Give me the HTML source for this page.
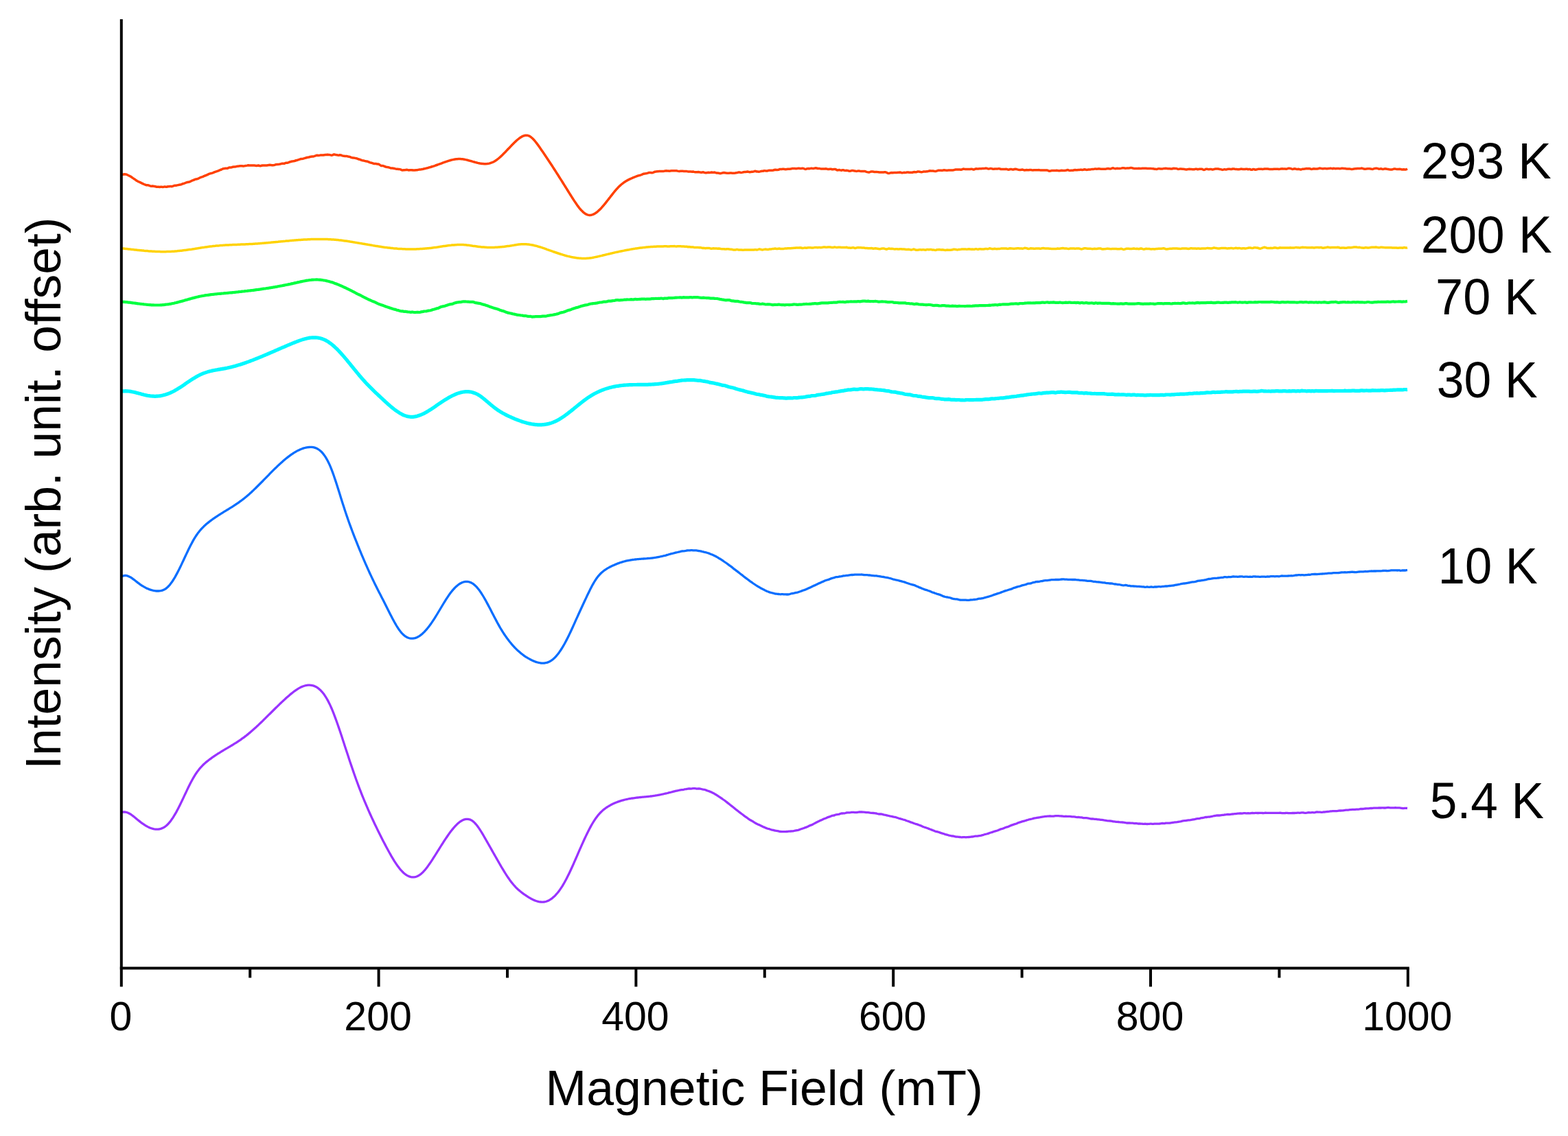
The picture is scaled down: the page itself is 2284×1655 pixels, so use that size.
<!DOCTYPE html>
<html><head><meta charset="utf-8"><title>EPR spectra</title><style>html,body{margin:0;padding:0;background:#fff;overflow:hidden;width:2284px;height:1655px;}svg{display:block;}</style></head><body>
<svg width="2284" height="1655" viewBox="0 0 2284 1655">
<rect width="2284" height="1655" fill="#fff"/>
<path d="M177.0 254.5 L178.5 254.3 L180.0 254.0 L181.5 253.8 L183.0 253.9 L184.5 254.3 L186.0 255.0 L187.5 255.8 L189.0 256.4 L190.5 257.3 L192.0 258.3 L193.5 259.4 L195.0 260.4 L196.5 261.3 L198.0 262.5 L199.5 263.5 L201.0 264.3 L202.5 265.0 L204.0 265.7 L205.5 266.4 L207.0 267.1 L208.5 267.8 L210.0 268.5 L211.5 269.1 L213.0 269.7 L214.5 269.8 L216.0 269.8 L217.5 270.3 L219.0 271.0 L220.5 271.2 L222.0 271.1 L223.5 271.3 L225.0 271.5 L226.5 271.8 L228.0 272.2 L229.5 272.2 L231.0 272.3 L232.5 272.5 L234.0 272.3 L235.5 272.3 L237.0 272.4 L238.5 272.2 L240.0 271.9 L241.5 272.2 L243.0 272.2 L244.5 271.8 L246.0 271.8 L247.5 271.6 L249.0 271.5 L250.5 271.7 L252.0 271.2 L253.5 270.5 L255.0 270.3 L256.5 270.2 L258.0 269.9 L259.5 269.6 L261.0 269.3 L262.5 269.1 L264.0 268.7 L265.5 268.0 L267.0 267.5 L268.5 267.1 L270.0 266.5 L271.5 265.9 L273.0 265.5 L274.5 265.2 L276.0 265.0 L277.5 264.4 L279.0 263.4 L280.5 262.9 L282.0 262.4 L283.5 261.6 L285.0 261.1 L286.5 260.9 L288.0 260.5 L289.5 259.8 L291.0 259.0 L292.5 258.3 L294.0 257.9 L295.5 257.4 L297.0 256.7 L298.5 256.0 L300.0 255.5 L301.5 254.8 L303.0 254.1 L304.5 253.4 L306.0 252.9 L307.5 252.5 L309.0 252.1 L310.5 251.6 L312.0 250.9 L313.5 250.3 L315.0 249.8 L316.5 249.3 L318.0 248.8 L319.5 248.1 L321.0 247.5 L322.5 247.0 L324.0 246.2 L325.5 245.7 L327.0 245.5 L328.5 245.3 L330.0 245.3 L331.5 245.2 L333.0 244.4 L334.5 243.9 L336.0 243.9 L337.5 243.7 L339.0 243.3 L340.5 243.1 L342.0 243.1 L343.5 242.8 L345.0 242.3 L346.5 242.2 L348.0 242.1 L349.5 241.8 L351.0 241.8 L352.5 241.8 L354.0 241.9 L355.5 241.9 L357.0 241.6 L358.5 241.4 L360.0 241.1 L361.5 240.7 L363.0 240.9 L364.5 241.0 L366.0 240.9 L367.5 241.0 L369.0 241.0 L370.5 241.1 L372.0 241.2 L373.5 241.4 L375.0 241.2 L376.5 241.0 L378.0 241.5 L379.5 241.7 L381.0 241.3 L382.5 241.0 L384.0 240.9 L385.5 240.9 L387.0 241.1 L388.5 240.9 L390.0 240.7 L391.5 240.5 L393.0 240.3 L394.5 240.4 L396.0 240.7 L397.5 240.7 L399.0 240.5 L400.5 240.2 L402.0 239.7 L403.5 239.5 L405.0 239.4 L406.5 239.3 L408.0 239.0 L409.5 238.6 L411.0 238.2 L412.5 238.2 L414.0 238.3 L415.5 237.7 L417.0 237.2 L418.5 237.2 L420.0 236.9 L421.5 236.2 L423.0 235.7 L424.5 235.3 L426.0 234.9 L427.5 234.8 L429.0 234.5 L430.5 234.0 L432.0 233.5 L433.5 233.2 L435.0 232.7 L436.5 232.2 L438.0 231.6 L439.5 231.4 L441.0 231.3 L442.5 230.9 L444.0 230.4 L445.5 230.0 L447.0 229.5 L448.5 229.2 L450.0 229.0 L451.5 228.5 L453.0 228.2 L454.5 228.0 L456.0 228.0 L457.5 227.6 L459.0 227.1 L460.5 226.5 L462.0 226.2 L463.5 226.5 L465.0 226.4 L466.5 226.1 L468.0 226.0 L469.5 226.0 L471.0 225.9 L472.5 225.7 L474.0 225.5 L475.5 225.5 L477.0 225.2 L478.5 225.4 L480.0 225.6 L481.5 225.9 L483.0 226.2 L484.5 225.9 L486.0 225.1 L487.5 225.1 L489.0 225.6 L490.5 225.7 L492.0 226.0 L493.5 226.2 L495.0 225.8 L496.5 225.9 L498.0 226.6 L499.5 227.0 L501.0 227.2 L502.5 227.4 L504.0 227.4 L505.5 227.6 L507.0 228.0 L508.5 228.2 L510.0 228.6 L511.5 229.3 L513.0 229.8 L514.5 230.0 L516.0 230.1 L517.5 230.4 L519.0 230.7 L520.5 231.2 L522.0 231.8 L523.5 232.2 L525.0 232.7 L526.5 233.4 L528.0 233.8 L529.5 233.9 L531.0 234.4 L532.5 234.8 L534.0 235.0 L535.5 235.3 L537.0 235.9 L538.5 236.6 L540.0 237.0 L541.5 237.3 L543.0 237.8 L544.5 238.4 L546.0 238.5 L547.5 238.5 L549.0 238.9 L550.5 239.0 L552.0 239.3 L553.5 240.4 L555.0 241.4 L556.5 241.5 L558.0 241.5 L559.5 242.1 L561.0 242.8 L562.5 243.2 L564.0 243.4 L565.5 243.7 L567.0 244.2 L568.5 244.7 L570.0 245.0 L571.5 245.0 L573.0 245.2 L574.5 245.5 L576.0 245.9 L577.5 246.2 L579.0 246.2 L580.5 246.4 L582.0 246.6 L583.5 246.9 L585.0 247.7 L586.5 247.9 L588.0 247.7 L589.5 247.8 L591.0 247.6 L592.5 247.2 L594.0 247.6 L595.5 248.0 L597.0 247.8 L598.5 247.7 L600.0 247.7 L601.5 248.0 L603.0 248.1 L604.5 248.0 L606.0 247.8 L607.5 247.7 L609.0 247.4 L610.5 247.1 L612.0 246.9 L613.5 246.8 L615.0 246.5 L616.5 246.2 L618.0 245.8 L619.5 245.5 L621.0 245.1 L622.5 244.8 L624.0 244.3 L625.5 243.9 L627.0 243.5 L628.5 243.0 L630.0 242.5 L631.5 242.1 L633.0 241.6 L634.5 241.0 L636.0 240.5 L637.5 240.0 L639.0 239.4 L640.5 238.9 L642.0 238.3 L643.5 237.8 L645.0 237.2 L646.5 236.7 L648.0 236.1 L649.5 235.6 L651.0 235.1 L652.5 234.6 L654.0 234.1 L655.5 233.7 L657.0 233.3 L658.5 232.9 L660.0 232.6 L661.5 232.3 L663.0 232.0 L664.5 231.8 L666.0 231.7 L667.5 231.6 L669.0 231.6 L670.5 231.6 L672.0 231.7 L673.5 231.8 L675.0 232.0 L676.5 232.3 L678.0 232.6 L679.5 232.9 L681.0 233.3 L682.5 233.7 L684.0 234.1 L685.5 234.5 L687.0 234.9 L688.5 235.4 L690.0 235.8 L691.5 236.2 L693.0 236.6 L694.5 237.0 L696.0 237.4 L697.5 237.7 L699.0 238.0 L700.5 238.2 L702.0 238.5 L703.5 238.6 L705.0 238.7 L706.5 238.7 L708.0 238.7 L709.5 238.6 L711.0 238.4 L712.5 238.1 L714.0 237.7 L715.5 237.2 L717.0 236.7 L718.5 236.0 L720.0 235.2 L721.5 234.3 L723.0 233.3 L724.5 232.2 L726.0 231.0 L727.5 229.7 L729.0 228.4 L730.5 227.0 L732.0 225.6 L733.5 224.1 L735.0 222.6 L736.5 221.0 L738.0 219.4 L739.5 217.8 L741.0 216.2 L742.5 214.7 L744.0 213.1 L745.5 211.5 L747.0 210.0 L748.5 208.5 L750.0 207.0 L751.5 205.6 L753.0 204.3 L754.5 203.0 L756.0 201.8 L757.5 200.7 L759.0 199.7 L760.5 198.9 L762.0 198.2 L763.5 197.7 L765.0 197.3 L766.5 197.2 L768.0 197.3 L769.5 197.6 L771.0 198.2 L772.5 199.1 L774.0 200.2 L775.5 201.5 L777.0 203.0 L778.5 204.6 L780.0 206.5 L781.5 208.4 L783.0 210.4 L784.5 212.4 L786.0 214.6 L787.5 216.7 L789.0 218.9 L790.5 221.0 L792.0 223.2 L793.5 225.5 L795.0 227.7 L796.5 229.9 L798.0 232.2 L799.5 234.4 L801.0 236.7 L802.5 239.0 L804.0 241.3 L805.5 243.6 L807.0 246.0 L808.5 248.3 L810.0 250.6 L811.5 253.0 L813.0 255.3 L814.5 257.7 L816.0 260.1 L817.5 262.4 L819.0 264.8 L820.5 267.2 L822.0 269.6 L823.5 272.0 L825.0 274.4 L826.5 276.8 L828.0 279.2 L829.5 281.6 L831.0 284.0 L832.5 286.4 L834.0 288.7 L835.5 291.1 L837.0 293.4 L838.5 295.6 L840.0 297.8 L841.5 299.9 L843.0 301.9 L844.5 303.8 L846.0 305.5 L847.5 307.1 L849.0 308.6 L850.5 309.9 L852.0 311.0 L853.5 311.9 L855.0 312.6 L856.5 313.1 L858.0 313.4 L859.5 313.4 L861.0 313.3 L862.5 312.9 L864.0 312.4 L865.5 311.7 L867.0 310.8 L868.5 309.8 L870.0 308.6 L871.5 307.3 L873.0 305.9 L874.5 304.4 L876.0 302.9 L877.5 301.2 L879.0 299.5 L880.5 297.7 L882.0 295.8 L883.5 293.9 L885.0 292.0 L886.5 290.1 L888.0 288.2 L889.5 286.2 L891.0 284.3 L892.5 282.4 L894.0 280.5 L895.5 278.7 L897.0 276.9 L898.5 275.2 L900.0 273.6 L901.5 272.1 L903.0 270.6 L904.5 269.3 L906.0 268.0 L907.5 266.8 L909.0 265.7 L910.5 264.7 L912.0 263.8 L913.5 262.9 L915.0 262.1 L916.5 261.4 L918.0 260.7 L919.5 260.0 L921.0 259.3 L922.5 258.7 L924.0 258.1 L925.5 257.5 L927.0 256.9 L928.5 256.3 L930.0 255.9 L931.5 255.5 L933.0 255.1 L934.5 254.5 L936.0 253.8 L937.5 253.2 L939.0 253.0 L940.5 252.8 L942.0 252.5 L943.5 252.1 L945.0 251.6 L946.5 251.5 L948.0 251.5 L949.5 251.7 L951.0 251.5 L952.5 250.8 L954.0 250.2 L955.5 250.1 L957.0 249.8 L958.5 249.7 L960.0 249.6 L961.5 249.5 L963.0 249.6 L964.5 249.6 L966.0 249.4 L967.5 249.2 L969.0 248.9 L970.5 248.8 L972.0 248.9 L973.5 249.0 L975.0 249.2 L976.5 249.0 L978.0 248.8 L979.5 248.8 L981.0 248.7 L982.5 248.8 L984.0 248.8 L985.5 248.7 L987.0 249.1 L988.5 249.4 L990.0 249.4 L991.5 249.3 L993.0 249.3 L994.5 249.3 L996.0 249.4 L997.5 249.6 L999.0 249.6 L1000.5 249.6 L1002.0 249.9 L1003.5 250.1 L1005.0 250.1 L1006.5 250.1 L1008.0 250.2 L1009.5 250.0 L1011.0 250.4 L1012.5 250.7 L1014.0 250.8 L1015.5 250.7 L1017.0 250.6 L1018.5 250.8 L1020.0 251.1 L1021.5 251.2 L1023.0 251.0 L1024.5 250.8 L1026.0 251.3 L1027.5 251.8 L1029.0 251.8 L1030.5 251.4 L1032.0 251.2 L1033.5 251.5 L1035.0 251.3 L1036.5 251.0 L1038.0 251.2 L1039.5 251.2 L1041.0 251.1 L1042.5 251.6 L1044.0 252.1 L1045.5 252.0 L1047.0 252.2 L1048.5 252.7 L1050.0 252.6 L1051.5 252.1 L1053.0 251.7 L1054.5 251.5 L1056.0 251.7 L1057.5 252.1 L1059.0 252.2 L1060.5 252.2 L1062.0 252.2 L1063.5 251.9 L1065.0 251.9 L1066.5 252.2 L1068.0 252.2 L1069.5 252.2 L1071.0 252.0 L1072.5 251.7 L1074.0 251.5 L1075.5 251.1 L1077.0 251.0 L1078.5 251.3 L1080.0 251.4 L1081.5 251.1 L1083.0 250.7 L1084.5 250.6 L1086.0 250.6 L1087.5 250.2 L1089.0 250.0 L1090.5 250.4 L1092.0 250.8 L1093.5 250.6 L1095.0 250.2 L1096.5 250.2 L1098.0 249.9 L1099.5 249.3 L1101.0 249.5 L1102.5 250.0 L1104.0 250.1 L1105.5 250.2 L1107.0 249.9 L1108.5 249.5 L1110.0 249.3 L1111.5 249.2 L1113.0 248.8 L1114.5 248.8 L1116.0 249.1 L1117.5 249.1 L1119.0 248.5 L1120.5 248.2 L1122.0 248.3 L1123.5 248.3 L1125.0 248.2 L1126.5 248.0 L1128.0 247.5 L1129.5 247.2 L1131.0 247.4 L1132.5 247.5 L1134.0 247.3 L1135.5 246.6 L1137.0 246.5 L1138.5 246.6 L1140.0 246.3 L1141.5 246.2 L1143.0 246.6 L1144.5 246.7 L1146.0 246.4 L1147.5 246.2 L1149.0 246.3 L1150.5 246.2 L1152.0 246.1 L1153.5 245.6 L1155.0 245.4 L1156.5 245.5 L1158.0 245.6 L1159.5 245.7 L1161.0 245.6 L1162.5 245.3 L1164.0 245.3 L1165.5 245.5 L1167.0 245.5 L1168.5 245.3 L1170.0 245.3 L1171.5 245.9 L1173.0 246.4 L1174.5 246.2 L1176.0 245.7 L1177.5 245.6 L1179.0 245.8 L1180.5 245.4 L1182.0 245.1 L1183.5 245.4 L1185.0 245.5 L1186.5 245.1 L1188.0 244.8 L1189.5 245.0 L1191.0 245.5 L1192.5 245.5 L1194.0 245.6 L1195.5 245.9 L1197.0 246.0 L1198.5 246.0 L1200.0 246.0 L1201.5 245.9 L1203.0 245.8 L1204.5 246.1 L1206.0 246.5 L1207.5 246.4 L1209.0 246.2 L1210.5 246.3 L1212.0 246.7 L1213.5 246.7 L1215.0 246.4 L1216.5 246.4 L1218.0 247.1 L1219.5 247.9 L1221.0 247.8 L1222.5 247.5 L1224.0 247.9 L1225.5 248.2 L1227.0 247.8 L1228.5 247.8 L1230.0 248.2 L1231.5 248.4 L1233.0 248.3 L1234.5 248.4 L1236.0 249.0 L1237.5 249.2 L1239.0 249.0 L1240.5 248.6 L1242.0 248.4 L1243.5 248.7 L1245.0 249.1 L1246.5 249.3 L1248.0 249.4 L1249.5 249.1 L1251.0 248.9 L1252.5 249.3 L1254.0 249.4 L1255.5 249.4 L1257.0 249.5 L1258.5 249.4 L1260.0 249.5 L1261.5 250.1 L1263.0 250.6 L1264.5 250.9 L1266.0 251.1 L1267.5 250.5 L1269.0 249.9 L1270.5 249.9 L1272.0 250.1 L1273.5 250.5 L1275.0 250.5 L1276.5 250.4 L1278.0 250.6 L1279.5 250.7 L1281.0 250.9 L1282.5 251.1 L1284.0 251.1 L1285.5 251.1 L1287.0 251.0 L1288.5 250.8 L1290.0 250.8 L1291.5 251.4 L1293.0 252.2 L1294.5 252.4 L1296.0 252.2 L1297.5 251.7 L1299.0 251.6 L1300.5 251.8 L1302.0 251.6 L1303.5 251.4 L1305.0 251.4 L1306.5 251.4 L1308.0 251.3 L1309.5 251.2 L1311.0 251.0 L1312.5 251.4 L1314.0 251.9 L1315.5 251.6 L1317.0 251.3 L1318.5 251.4 L1320.0 251.3 L1321.5 250.9 L1323.0 251.0 L1324.5 251.3 L1326.0 251.2 L1327.5 251.2 L1329.0 251.2 L1330.5 250.8 L1332.0 250.6 L1333.5 250.7 L1335.0 250.7 L1336.5 250.1 L1338.0 249.9 L1339.5 250.2 L1341.0 250.5 L1342.5 250.7 L1344.0 250.4 L1345.5 249.9 L1347.0 250.0 L1348.5 249.9 L1350.0 249.7 L1351.5 249.7 L1353.0 249.2 L1354.5 248.8 L1356.0 248.9 L1357.5 248.9 L1359.0 249.0 L1360.5 249.3 L1362.0 249.5 L1363.5 249.5 L1365.0 248.9 L1366.5 248.3 L1368.0 248.2 L1369.5 248.2 L1371.0 248.2 L1372.5 248.4 L1374.0 248.0 L1375.5 247.8 L1377.0 248.1 L1378.5 248.3 L1380.0 248.2 L1381.5 248.1 L1383.0 248.1 L1384.5 248.1 L1386.0 248.1 L1387.5 248.0 L1389.0 247.8 L1390.5 247.4 L1392.0 247.0 L1393.5 247.0 L1395.0 247.1 L1396.5 247.0 L1398.0 246.9 L1399.5 247.3 L1401.0 247.0 L1402.5 246.3 L1404.0 246.1 L1405.5 246.4 L1407.0 246.5 L1408.5 246.4 L1410.0 246.4 L1411.5 246.4 L1413.0 246.4 L1414.5 246.2 L1416.0 246.3 L1417.5 246.9 L1419.0 246.9 L1420.5 246.2 L1422.0 245.8 L1423.5 245.9 L1425.0 246.0 L1426.5 245.8 L1428.0 245.7 L1429.5 245.8 L1431.0 245.6 L1432.5 245.5 L1434.0 245.4 L1435.5 245.1 L1437.0 245.2 L1438.5 245.7 L1440.0 245.9 L1441.5 245.7 L1443.0 245.4 L1444.5 245.7 L1446.0 246.2 L1447.5 246.3 L1449.0 246.0 L1450.5 245.9 L1452.0 246.0 L1453.5 245.9 L1455.0 245.6 L1456.5 246.0 L1458.0 246.5 L1459.5 246.6 L1461.0 246.5 L1462.5 246.4 L1464.0 246.4 L1465.5 246.3 L1467.0 246.6 L1468.5 247.2 L1470.0 247.0 L1471.5 246.5 L1473.0 246.5 L1474.5 246.9 L1476.0 247.0 L1477.5 246.5 L1479.0 246.2 L1480.5 246.5 L1482.0 246.9 L1483.5 247.2 L1485.0 247.4 L1486.5 247.4 L1488.0 247.2 L1489.5 247.1 L1491.0 247.6 L1492.5 248.1 L1494.0 247.8 L1495.5 247.6 L1497.0 247.7 L1498.5 247.8 L1500.0 247.5 L1501.5 247.5 L1503.0 247.8 L1504.5 247.9 L1506.0 247.7 L1507.5 247.7 L1509.0 247.8 L1510.5 247.8 L1512.0 247.7 L1513.5 247.6 L1515.0 247.9 L1516.5 248.1 L1518.0 247.9 L1519.5 248.0 L1521.0 248.1 L1522.5 248.0 L1524.0 247.9 L1525.5 248.1 L1527.0 248.7 L1528.5 249.3 L1530.0 249.1 L1531.5 248.6 L1533.0 248.5 L1534.5 248.5 L1536.0 248.6 L1537.5 248.6 L1539.0 248.3 L1540.5 248.4 L1542.0 248.7 L1543.5 248.8 L1545.0 248.5 L1546.5 248.2 L1548.0 248.4 L1549.5 248.5 L1551.0 248.4 L1552.5 248.3 L1554.0 247.8 L1555.5 247.6 L1557.0 248.2 L1558.5 248.4 L1560.0 248.2 L1561.5 248.2 L1563.0 248.2 L1564.5 247.8 L1566.0 247.6 L1567.5 247.8 L1569.0 247.8 L1570.5 247.6 L1572.0 247.6 L1573.5 247.3 L1575.0 247.2 L1576.5 247.5 L1578.0 247.2 L1579.5 246.8 L1581.0 247.0 L1582.5 247.4 L1584.0 247.3 L1585.5 247.0 L1587.0 246.9 L1588.5 246.9 L1590.0 246.6 L1591.5 246.5 L1593.0 246.4 L1594.5 246.1 L1596.0 246.1 L1597.5 246.2 L1599.0 246.1 L1600.5 245.8 L1602.0 245.9 L1603.5 246.2 L1605.0 246.2 L1606.5 246.2 L1608.0 246.2 L1609.5 246.3 L1611.0 246.2 L1612.5 245.7 L1614.0 245.6 L1615.5 245.7 L1617.0 246.1 L1618.5 245.8 L1620.0 244.9 L1621.5 244.8 L1623.0 245.4 L1624.5 245.7 L1626.0 245.5 L1627.5 245.3 L1629.0 245.4 L1630.5 245.4 L1632.0 245.4 L1633.5 245.1 L1635.0 244.7 L1636.5 244.8 L1638.0 245.0 L1639.5 245.2 L1641.0 245.1 L1642.5 244.9 L1644.0 245.0 L1645.5 244.8 L1647.0 244.5 L1648.5 244.6 L1650.0 245.0 L1651.5 245.4 L1653.0 245.5 L1654.5 245.4 L1656.0 245.5 L1657.5 245.4 L1659.0 245.3 L1660.5 245.6 L1662.0 245.6 L1663.5 245.3 L1665.0 245.2 L1666.5 245.3 L1668.0 245.3 L1669.5 245.3 L1671.0 245.5 L1672.5 245.6 L1674.0 245.5 L1675.5 245.4 L1677.0 245.6 L1678.5 245.7 L1680.0 245.8 L1681.5 246.2 L1683.0 246.3 L1684.5 246.4 L1686.0 246.2 L1687.5 245.7 L1689.0 245.7 L1690.5 245.9 L1692.0 245.9 L1693.5 245.9 L1695.0 245.6 L1696.5 245.4 L1698.0 245.3 L1699.5 245.4 L1701.0 245.7 L1702.5 245.8 L1704.0 245.7 L1705.5 246.0 L1707.0 246.0 L1708.5 245.5 L1710.0 245.3 L1711.5 245.4 L1713.0 245.4 L1714.5 245.9 L1716.0 246.4 L1717.5 246.3 L1719.0 246.1 L1720.5 246.1 L1722.0 246.2 L1723.5 246.3 L1725.0 246.4 L1726.5 246.8 L1728.0 247.0 L1729.5 246.7 L1731.0 246.4 L1732.5 246.3 L1734.0 246.5 L1735.5 246.6 L1737.0 246.7 L1738.5 246.8 L1740.0 246.7 L1741.5 246.2 L1743.0 246.3 L1744.5 246.7 L1746.0 246.5 L1747.5 246.3 L1749.0 246.2 L1750.5 246.2 L1752.0 246.8 L1753.5 247.5 L1755.0 247.1 L1756.5 246.3 L1758.0 246.2 L1759.5 246.5 L1761.0 246.7 L1762.5 246.4 L1764.0 246.4 L1765.5 246.9 L1767.0 246.9 L1768.5 246.5 L1770.0 246.1 L1771.5 245.9 L1773.0 245.9 L1774.5 246.0 L1776.0 246.4 L1777.5 246.6 L1779.0 246.9 L1780.5 247.4 L1782.0 247.1 L1783.5 246.6 L1785.0 246.9 L1786.5 247.0 L1788.0 246.4 L1789.5 246.2 L1791.0 246.2 L1792.5 246.4 L1794.0 246.5 L1795.5 246.0 L1797.0 245.9 L1798.5 246.3 L1800.0 246.5 L1801.5 246.6 L1803.0 246.7 L1804.5 246.7 L1806.0 246.6 L1807.5 246.1 L1809.0 246.2 L1810.5 246.4 L1812.0 246.5 L1813.5 246.5 L1815.0 246.2 L1816.5 246.3 L1818.0 246.7 L1819.5 246.6 L1821.0 246.6 L1822.5 247.3 L1824.0 247.2 L1825.5 246.4 L1827.0 246.7 L1828.5 247.3 L1830.0 247.1 L1831.5 246.6 L1833.0 246.3 L1834.5 246.2 L1836.0 246.2 L1837.5 246.3 L1839.0 246.5 L1840.5 246.3 L1842.0 246.0 L1843.5 246.0 L1845.0 246.0 L1846.5 246.1 L1848.0 246.3 L1849.5 246.6 L1851.0 246.6 L1852.5 246.5 L1854.0 246.5 L1855.5 246.3 L1857.0 246.2 L1858.5 246.3 L1860.0 246.3 L1861.5 246.2 L1863.0 246.4 L1864.5 246.3 L1866.0 245.9 L1867.5 245.8 L1869.0 245.9 L1870.5 246.0 L1872.0 246.1 L1873.5 246.3 L1875.0 245.8 L1876.5 245.3 L1878.0 245.3 L1879.5 245.4 L1881.0 245.9 L1882.5 246.5 L1884.0 246.2 L1885.5 245.7 L1887.0 245.9 L1888.5 246.5 L1890.0 246.4 L1891.5 246.2 L1893.0 246.6 L1894.5 247.0 L1896.0 246.7 L1897.5 246.2 L1899.0 246.2 L1900.5 246.1 L1902.0 245.7 L1903.5 245.6 L1905.0 245.7 L1906.5 245.6 L1908.0 245.8 L1909.5 246.2 L1911.0 246.4 L1912.5 246.0 L1914.0 245.7 L1915.5 245.9 L1917.0 246.1 L1918.5 246.1 L1920.0 245.7 L1921.5 245.3 L1923.0 245.1 L1924.5 245.4 L1926.0 245.8 L1927.5 245.8 L1929.0 245.5 L1930.5 245.6 L1932.0 245.8 L1933.5 245.8 L1935.0 245.6 L1936.5 245.4 L1938.0 245.1 L1939.5 245.4 L1941.0 245.7 L1942.5 245.3 L1944.0 245.4 L1945.5 245.7 L1947.0 245.6 L1948.5 245.5 L1950.0 245.6 L1951.5 245.7 L1953.0 245.5 L1954.5 245.2 L1956.0 245.3 L1957.5 245.4 L1959.0 245.5 L1960.5 245.8 L1962.0 246.1 L1963.5 246.0 L1965.0 245.9 L1966.5 246.1 L1968.0 246.4 L1969.5 246.4 L1971.0 246.3 L1972.5 245.9 L1974.0 245.8 L1975.5 245.8 L1977.0 245.5 L1978.5 245.6 L1980.0 245.6 L1981.5 245.4 L1983.0 245.1 L1984.5 245.3 L1986.0 245.8 L1987.5 246.2 L1989.0 246.2 L1990.5 245.9 L1992.0 245.7 L1993.5 245.7 L1995.0 245.8 L1996.5 246.0 L1998.0 246.3 L1999.5 246.5 L2001.0 245.9 L2002.5 245.4 L2004.0 245.3 L2005.5 245.3 L2007.0 245.6 L2008.5 246.2 L2010.0 246.0 L2011.5 245.7 L2013.0 246.2 L2014.5 246.5 L2016.0 246.1 L2017.5 245.8 L2019.0 246.0 L2020.5 246.3 L2022.0 246.5 L2023.5 246.8 L2025.0 246.9 L2026.5 246.9 L2028.0 246.9 L2029.5 246.4 L2031.0 245.9 L2032.5 246.1 L2034.0 246.4 L2035.5 246.4 L2037.0 246.6 L2038.5 246.3 L2040.0 246.4 L2041.5 246.9 L2043.0 246.9 L2044.5 246.8 L2046.0 247.0 L2047.5 247.1 L2049.0 246.5 L2050.0 246.0" fill="none" stroke="#FF4000" stroke-width="3.5" stroke-linejoin="round" stroke-linecap="butt"/>
<path d="M177.0 361.8 L178.5 361.9 L180.0 362.0 L181.5 362.2 L183.0 362.4 L184.5 362.5 L186.0 362.7 L187.5 362.9 L189.0 363.0 L190.5 363.2 L192.0 363.4 L193.5 363.5 L195.0 363.7 L196.5 363.9 L198.0 364.0 L199.5 364.2 L201.0 364.4 L202.5 364.5 L204.0 364.7 L205.5 364.8 L207.0 365.0 L208.5 365.1 L210.0 365.3 L211.5 365.4 L213.0 365.5 L214.5 365.6 L216.0 365.8 L217.5 365.9 L219.0 366.0 L220.5 366.1 L222.0 366.2 L223.5 366.3 L225.0 366.3 L226.5 366.4 L228.0 366.5 L229.5 366.5 L231.0 366.6 L232.5 366.6 L234.0 366.7 L235.5 366.7 L237.0 366.7 L238.5 366.7 L240.0 366.7 L241.5 366.7 L243.0 366.6 L244.5 366.6 L246.0 366.6 L247.5 366.5 L249.0 366.4 L250.5 366.3 L252.0 366.3 L253.5 366.2 L255.0 366.0 L256.5 365.9 L258.0 365.8 L259.5 365.6 L261.0 365.5 L262.5 365.3 L264.0 365.2 L265.5 365.0 L267.0 364.8 L268.5 364.6 L270.0 364.4 L271.5 364.2 L273.0 364.0 L274.5 363.8 L276.0 363.6 L277.5 363.4 L279.0 363.2 L280.5 362.9 L282.0 362.7 L283.5 362.5 L285.0 362.2 L286.5 362.0 L288.0 361.8 L289.5 361.5 L291.0 361.3 L292.5 361.0 L294.0 360.8 L295.5 360.6 L297.0 360.4 L298.5 360.1 L300.0 359.9 L301.5 359.7 L303.0 359.5 L304.5 359.3 L306.0 359.1 L307.5 358.9 L309.0 358.8 L310.5 358.6 L312.0 358.4 L313.5 358.3 L315.0 358.1 L316.5 358.0 L318.0 357.9 L319.5 357.8 L321.0 357.6 L322.5 357.5 L324.0 357.4 L325.5 357.3 L327.0 357.2 L328.5 357.1 L330.0 357.0 L331.5 357.0 L333.0 356.9 L334.5 356.8 L336.0 356.7 L337.5 356.7 L339.0 356.6 L340.5 356.5 L342.0 356.5 L343.5 356.4 L345.0 356.4 L346.5 356.3 L348.0 356.2 L349.5 356.2 L351.0 356.1 L352.5 356.1 L354.0 356.0 L355.5 355.9 L357.0 355.9 L358.5 355.8 L360.0 355.7 L361.5 355.7 L363.0 355.6 L364.5 355.5 L366.0 355.4 L367.5 355.4 L369.0 355.3 L370.5 355.2 L372.0 355.1 L373.5 355.0 L375.0 354.9 L376.5 354.8 L378.0 354.7 L379.5 354.5 L381.0 354.4 L382.5 354.3 L384.0 354.2 L385.5 354.0 L387.0 353.9 L388.5 353.8 L390.0 353.7 L391.5 353.5 L393.0 353.4 L394.5 353.2 L396.0 353.1 L397.5 353.0 L399.0 352.8 L400.5 352.7 L402.0 352.5 L403.5 352.4 L405.0 352.3 L406.5 352.1 L408.0 352.0 L409.5 351.8 L411.0 351.7 L412.5 351.5 L414.0 351.4 L415.5 351.3 L417.0 351.1 L418.5 351.0 L420.0 350.9 L421.5 350.7 L423.0 350.6 L424.5 350.5 L426.0 350.3 L427.5 350.2 L429.0 350.1 L430.5 350.0 L432.0 349.8 L433.5 349.7 L435.0 349.6 L436.5 349.5 L438.0 349.4 L439.5 349.3 L441.0 349.2 L442.5 349.1 L444.0 349.0 L445.5 349.0 L447.0 348.9 L448.5 348.8 L450.0 348.7 L451.5 348.7 L453.0 348.6 L454.5 348.6 L456.0 348.5 L457.5 348.5 L459.0 348.4 L460.5 348.4 L462.0 348.4 L463.5 348.4 L465.0 348.4 L466.5 348.4 L468.0 348.4 L469.5 348.4 L471.0 348.4 L472.5 348.4 L474.0 348.5 L475.5 348.5 L477.0 348.6 L478.5 348.7 L480.0 348.7 L481.5 348.8 L483.0 348.9 L484.5 349.0 L486.0 349.1 L487.5 349.2 L489.0 349.3 L490.5 349.5 L492.0 349.6 L493.5 349.8 L495.0 349.9 L496.5 350.1 L498.0 350.3 L499.5 350.5 L501.0 350.7 L502.5 350.9 L504.0 351.1 L505.5 351.3 L507.0 351.5 L508.5 351.7 L510.0 352.0 L511.5 352.2 L513.0 352.4 L514.5 352.7 L516.0 352.9 L517.5 353.2 L519.0 353.4 L520.5 353.7 L522.0 353.9 L523.5 354.2 L525.0 354.4 L526.5 354.7 L528.0 355.0 L529.5 355.2 L531.0 355.5 L532.5 355.8 L534.0 356.0 L535.5 356.3 L537.0 356.6 L538.5 356.8 L540.0 357.1 L541.5 357.3 L543.0 357.6 L544.5 357.9 L546.0 358.1 L547.5 358.4 L549.0 358.6 L550.5 358.8 L552.0 359.1 L553.5 359.3 L555.0 359.5 L556.5 359.8 L558.0 360.0 L559.5 360.2 L561.0 360.4 L562.5 360.6 L564.0 360.8 L565.5 361.0 L567.0 361.1 L568.5 361.3 L570.0 361.5 L571.5 361.6 L573.0 361.8 L574.5 361.9 L576.0 362.0 L577.5 362.1 L579.0 362.3 L580.5 362.4 L582.0 362.5 L583.5 362.5 L585.0 362.6 L586.5 362.7 L588.0 362.8 L589.5 362.8 L591.0 362.9 L592.5 362.9 L594.0 362.9 L595.5 362.9 L597.0 363.0 L598.5 363.0 L600.0 363.0 L601.5 362.9 L603.0 362.9 L604.5 362.9 L606.0 362.9 L607.5 362.8 L609.0 362.7 L610.5 362.7 L612.0 362.6 L613.5 362.5 L615.0 362.4 L616.5 362.3 L618.0 362.2 L619.5 362.1 L621.0 362.0 L622.5 361.8 L624.0 361.7 L625.5 361.5 L627.0 361.4 L628.5 361.2 L630.0 361.0 L631.5 360.8 L633.0 360.6 L634.5 360.4 L636.0 360.2 L637.5 360.0 L639.0 359.7 L640.5 359.5 L642.0 359.3 L643.5 359.1 L645.0 358.8 L646.5 358.6 L648.0 358.4 L649.5 358.2 L651.0 358.0 L652.5 357.8 L654.0 357.6 L655.5 357.4 L657.0 357.3 L658.5 357.1 L660.0 357.0 L661.5 356.9 L663.0 356.7 L664.5 356.7 L666.0 356.6 L667.5 356.5 L669.0 356.5 L670.5 356.5 L672.0 356.5 L673.5 356.6 L675.0 356.6 L676.5 356.7 L678.0 356.8 L679.5 357.0 L681.0 357.2 L682.5 357.3 L684.0 357.5 L685.5 357.7 L687.0 357.9 L688.5 358.2 L690.0 358.4 L691.5 358.6 L693.0 358.8 L694.5 359.0 L696.0 359.2 L697.5 359.4 L699.0 359.6 L700.5 359.8 L702.0 359.9 L703.5 360.0 L705.0 360.1 L706.5 360.2 L708.0 360.3 L709.5 360.4 L711.0 360.4 L712.5 360.5 L714.0 360.5 L715.5 360.5 L717.0 360.5 L718.5 360.4 L720.0 360.4 L721.5 360.3 L723.0 360.3 L724.5 360.2 L726.0 360.1 L727.5 360.0 L729.0 359.8 L730.5 359.7 L732.0 359.5 L733.5 359.4 L735.0 359.2 L736.5 359.0 L738.0 358.8 L739.5 358.6 L741.0 358.4 L742.5 358.2 L744.0 357.9 L745.5 357.7 L747.0 357.4 L748.5 357.2 L750.0 356.9 L751.5 356.7 L753.0 356.5 L754.5 356.3 L756.0 356.1 L757.5 355.9 L759.0 355.8 L760.5 355.7 L762.0 355.7 L763.5 355.7 L765.0 355.7 L766.5 355.8 L768.0 355.9 L769.5 356.0 L771.0 356.2 L772.5 356.5 L774.0 356.7 L775.5 357.0 L777.0 357.3 L778.5 357.7 L780.0 358.0 L781.5 358.4 L783.0 358.8 L784.5 359.3 L786.0 359.7 L787.5 360.2 L789.0 360.7 L790.5 361.2 L792.0 361.7 L793.5 362.2 L795.0 362.7 L796.5 363.3 L798.0 363.8 L799.5 364.3 L801.0 364.9 L802.5 365.4 L804.0 365.9 L805.5 366.5 L807.0 367.0 L808.5 367.5 L810.0 368.0 L811.5 368.5 L813.0 369.0 L814.5 369.5 L816.0 370.0 L817.5 370.5 L819.0 370.9 L820.5 371.4 L822.0 371.8 L823.5 372.3 L825.0 372.7 L826.5 373.1 L828.0 373.4 L829.5 373.8 L831.0 374.1 L832.5 374.5 L834.0 374.8 L835.5 375.1 L837.0 375.3 L838.5 375.5 L840.0 375.8 L841.5 375.9 L843.0 376.1 L844.5 376.2 L846.0 376.3 L847.5 376.4 L849.0 376.5 L850.5 376.5 L852.0 376.5 L853.5 376.4 L855.0 376.3 L856.5 376.2 L858.0 376.1 L859.5 375.9 L861.0 375.7 L862.5 375.5 L864.0 375.2 L865.5 374.9 L867.0 374.6 L868.5 374.3 L870.0 374.0 L871.5 373.6 L873.0 373.3 L874.5 372.9 L876.0 372.6 L877.5 372.2 L879.0 371.8 L880.5 371.5 L882.0 371.1 L883.5 370.7 L885.0 370.4 L886.5 370.0 L888.0 369.7 L889.5 369.3 L891.0 369.0 L892.5 368.6 L894.0 368.3 L895.5 367.9 L897.0 367.6 L898.5 367.3 L900.0 367.0 L901.5 366.6 L903.0 366.3 L904.5 366.0 L906.0 365.7 L907.5 365.4 L909.0 365.1 L910.5 364.8 L912.0 364.5 L913.5 364.2 L915.0 363.9 L916.5 363.7 L918.0 363.4 L919.5 363.1 L921.0 362.9 L922.5 362.6 L924.0 362.4 L925.5 362.1 L927.0 361.9 L928.5 361.7 L930.0 361.5 L931.5 361.3 L933.0 361.1 L934.5 360.9 L936.0 360.7 L937.5 360.6 L939.0 360.4 L940.5 360.2 L942.0 360.1 L943.5 360.0 L945.0 359.8 L946.5 359.7 L948.0 359.6 L949.5 359.5 L951.0 359.4 L952.5 359.3 L954.0 359.2 L955.5 359.2 L957.0 359.1 L958.5 359.0 L960.0 358.9 L961.5 358.9 L963.0 358.9 L964.5 358.9 L966.0 358.9 L967.5 358.8 L969.0 358.7 L970.5 358.8 L972.0 358.9 L973.5 358.9 L975.0 358.9 L976.5 358.7 L978.0 358.7 L979.5 358.8 L981.0 358.7 L982.5 358.6 L984.0 358.9 L985.5 358.9 L987.0 358.8 L988.5 358.7 L990.0 358.7 L991.5 358.8 L993.0 359.1 L994.5 359.1 L996.0 359.0 L997.5 359.2 L999.0 359.2 L1000.5 359.3 L1002.0 359.7 L1003.5 359.6 L1005.0 359.7 L1006.5 360.0 L1008.0 360.0 L1009.5 360.0 L1011.0 360.4 L1012.5 360.5 L1014.0 360.5 L1015.5 360.5 L1017.0 360.6 L1018.5 360.7 L1020.0 360.6 L1021.5 360.9 L1023.0 361.4 L1024.5 361.3 L1026.0 361.4 L1027.5 361.8 L1029.0 361.6 L1030.5 361.4 L1032.0 361.5 L1033.5 361.6 L1035.0 362.0 L1036.5 362.2 L1038.0 361.9 L1039.5 361.8 L1041.0 362.1 L1042.5 362.1 L1044.0 362.1 L1045.5 362.2 L1047.0 362.0 L1048.5 362.2 L1050.0 362.5 L1051.5 362.7 L1053.0 362.7 L1054.5 362.7 L1056.0 363.0 L1057.5 363.0 L1059.0 362.8 L1060.5 362.7 L1062.0 362.9 L1063.5 363.2 L1065.0 363.2 L1066.5 363.5 L1068.0 363.9 L1069.5 364.1 L1071.0 364.1 L1072.5 363.6 L1074.0 363.5 L1075.5 363.9 L1077.0 364.1 L1078.5 364.1 L1080.0 364.0 L1081.5 364.2 L1083.0 364.2 L1084.5 364.1 L1086.0 364.0 L1087.5 364.0 L1089.0 363.9 L1090.5 364.0 L1092.0 364.0 L1093.5 363.9 L1095.0 364.1 L1096.5 364.0 L1098.0 363.9 L1099.5 363.7 L1101.0 363.8 L1102.5 364.0 L1104.0 363.6 L1105.5 363.1 L1107.0 363.1 L1108.5 363.5 L1110.0 363.9 L1111.5 363.7 L1113.0 363.4 L1114.5 363.1 L1116.0 363.2 L1117.5 363.5 L1119.0 363.5 L1120.5 363.1 L1122.0 363.0 L1123.5 362.9 L1125.0 362.6 L1126.5 362.6 L1128.0 362.3 L1129.5 362.1 L1131.0 362.5 L1132.5 362.6 L1134.0 362.2 L1135.5 362.1 L1137.0 362.5 L1138.5 362.5 L1140.0 362.5 L1141.5 362.4 L1143.0 362.1 L1144.5 362.0 L1146.0 361.9 L1147.5 361.7 L1149.0 361.7 L1150.5 361.7 L1152.0 361.8 L1153.5 361.6 L1155.0 361.4 L1156.5 361.3 L1158.0 361.2 L1159.5 361.0 L1161.0 360.9 L1162.5 361.0 L1164.0 360.9 L1165.5 360.8 L1167.0 361.0 L1168.5 361.5 L1170.0 361.4 L1171.5 361.1 L1173.0 361.0 L1174.5 361.3 L1176.0 361.0 L1177.5 360.7 L1179.0 360.7 L1180.5 360.8 L1182.0 360.9 L1183.5 360.9 L1185.0 360.9 L1186.5 360.6 L1188.0 360.4 L1189.5 360.5 L1191.0 360.7 L1192.5 360.5 L1194.0 360.4 L1195.5 360.7 L1197.0 360.6 L1198.5 360.2 L1200.0 359.9 L1201.5 360.0 L1203.0 360.2 L1204.5 360.3 L1206.0 360.1 L1207.5 360.1 L1209.0 360.1 L1210.5 360.2 L1212.0 360.6 L1213.5 360.6 L1215.0 360.1 L1216.5 360.1 L1218.0 360.4 L1219.5 360.4 L1221.0 360.3 L1222.5 360.2 L1224.0 360.3 L1225.5 360.6 L1227.0 360.6 L1228.5 360.6 L1230.0 360.6 L1231.5 360.4 L1233.0 360.3 L1234.5 360.7 L1236.0 360.9 L1237.5 360.9 L1239.0 361.2 L1240.5 361.1 L1242.0 360.7 L1243.5 360.8 L1245.0 361.4 L1246.5 361.4 L1248.0 360.9 L1249.5 360.6 L1251.0 360.8 L1252.5 360.8 L1254.0 360.8 L1255.5 360.9 L1257.0 360.9 L1258.5 361.0 L1260.0 361.4 L1261.5 361.4 L1263.0 361.5 L1264.5 361.8 L1266.0 361.8 L1267.5 361.7 L1269.0 361.6 L1270.5 361.8 L1272.0 362.2 L1273.5 362.1 L1275.0 361.7 L1276.5 361.9 L1278.0 362.2 L1279.5 362.5 L1281.0 362.8 L1282.5 362.7 L1284.0 362.2 L1285.5 362.0 L1287.0 362.0 L1288.5 362.3 L1290.0 362.8 L1291.5 363.2 L1293.0 362.6 L1294.5 362.0 L1296.0 362.2 L1297.5 362.5 L1299.0 362.3 L1300.5 362.4 L1302.0 362.7 L1303.5 362.9 L1305.0 362.8 L1306.5 362.8 L1308.0 363.0 L1309.5 363.0 L1311.0 362.8 L1312.5 362.7 L1314.0 362.9 L1315.5 363.1 L1317.0 363.0 L1318.5 363.2 L1320.0 363.5 L1321.5 363.4 L1323.0 363.3 L1324.5 363.4 L1326.0 363.8 L1327.5 364.0 L1329.0 363.6 L1330.5 363.1 L1332.0 363.3 L1333.5 364.0 L1335.0 364.3 L1336.5 364.2 L1338.0 364.0 L1339.5 363.8 L1341.0 363.7 L1342.5 363.9 L1344.0 363.8 L1345.5 363.7 L1347.0 364.1 L1348.5 364.2 L1350.0 363.6 L1351.5 363.5 L1353.0 363.8 L1354.5 363.6 L1356.0 363.4 L1357.5 363.9 L1359.0 364.0 L1360.5 364.1 L1362.0 364.4 L1363.5 364.2 L1365.0 363.8 L1366.5 363.8 L1368.0 363.6 L1369.5 363.7 L1371.0 363.9 L1372.5 363.8 L1374.0 363.9 L1375.5 364.3 L1377.0 364.4 L1378.5 364.2 L1380.0 364.1 L1381.5 364.2 L1383.0 364.2 L1384.5 364.2 L1386.0 364.1 L1387.5 363.7 L1389.0 363.3 L1390.5 363.2 L1392.0 363.4 L1393.5 363.8 L1395.0 363.9 L1396.5 363.5 L1398.0 363.4 L1399.5 363.3 L1401.0 363.1 L1402.5 363.0 L1404.0 363.0 L1405.5 362.9 L1407.0 363.1 L1408.5 363.2 L1410.0 362.9 L1411.5 362.7 L1413.0 362.9 L1414.5 363.2 L1416.0 363.1 L1417.5 363.3 L1419.0 363.3 L1420.5 362.8 L1422.0 362.7 L1423.5 363.2 L1425.0 363.3 L1426.5 362.7 L1428.0 362.7 L1429.5 363.0 L1431.0 363.1 L1432.5 363.1 L1434.0 362.8 L1435.5 362.5 L1437.0 362.6 L1438.5 362.8 L1440.0 362.3 L1441.5 361.8 L1443.0 362.1 L1444.5 362.6 L1446.0 362.7 L1447.5 362.5 L1449.0 362.3 L1450.5 362.6 L1452.0 362.7 L1453.5 362.5 L1455.0 362.5 L1456.5 362.4 L1458.0 362.1 L1459.5 362.1 L1461.0 362.0 L1462.5 362.0 L1464.0 362.1 L1465.5 362.0 L1467.0 362.3 L1468.5 362.4 L1470.0 362.0 L1471.5 361.8 L1473.0 361.9 L1474.5 362.1 L1476.0 362.2 L1477.5 362.2 L1479.0 362.1 L1480.5 361.9 L1482.0 361.7 L1483.5 361.7 L1485.0 361.9 L1486.5 362.0 L1488.0 362.0 L1489.5 362.2 L1491.0 361.9 L1492.5 361.3 L1494.0 361.4 L1495.5 361.7 L1497.0 362.3 L1498.5 362.6 L1500.0 362.1 L1501.5 361.8 L1503.0 361.9 L1504.5 362.0 L1506.0 362.3 L1507.5 362.2 L1509.0 362.0 L1510.5 362.1 L1512.0 361.9 L1513.5 362.0 L1515.0 362.3 L1516.5 362.2 L1518.0 361.7 L1519.5 361.6 L1521.0 361.8 L1522.5 362.1 L1524.0 362.1 L1525.5 361.9 L1527.0 362.1 L1528.5 362.3 L1530.0 362.3 L1531.5 362.4 L1533.0 362.5 L1534.5 362.5 L1536.0 362.4 L1537.5 362.5 L1539.0 362.4 L1540.5 362.0 L1542.0 362.2 L1543.5 362.2 L1545.0 361.9 L1546.5 361.7 L1548.0 361.6 L1549.5 361.8 L1551.0 362.1 L1552.5 362.1 L1554.0 362.1 L1555.5 362.4 L1557.0 362.5 L1558.5 362.1 L1560.0 362.0 L1561.5 361.9 L1563.0 361.9 L1564.5 362.0 L1566.0 362.2 L1567.5 362.1 L1569.0 361.9 L1570.5 362.0 L1572.0 362.1 L1573.5 362.5 L1575.0 362.9 L1576.5 362.7 L1578.0 362.2 L1579.5 361.8 L1581.0 361.7 L1582.5 361.9 L1584.0 362.3 L1585.5 362.3 L1587.0 362.3 L1588.5 362.3 L1590.0 362.6 L1591.5 362.7 L1593.0 362.4 L1594.5 362.2 L1596.0 362.4 L1597.5 362.5 L1599.0 362.2 L1600.5 361.9 L1602.0 361.9 L1603.5 362.1 L1605.0 362.8 L1606.5 363.1 L1608.0 362.7 L1609.5 362.7 L1611.0 362.6 L1612.5 362.3 L1614.0 362.3 L1615.5 362.4 L1617.0 362.6 L1618.5 362.7 L1620.0 362.4 L1621.5 362.4 L1623.0 362.6 L1624.5 362.5 L1626.0 362.6 L1627.5 362.8 L1629.0 362.7 L1630.5 362.7 L1632.0 362.5 L1633.5 362.3 L1635.0 362.9 L1636.5 363.4 L1638.0 363.2 L1639.5 362.7 L1641.0 362.3 L1642.5 362.2 L1644.0 362.2 L1645.5 362.4 L1647.0 362.6 L1648.5 362.4 L1650.0 362.2 L1651.5 362.0 L1653.0 362.3 L1654.5 362.4 L1656.0 362.3 L1657.5 362.5 L1659.0 362.7 L1660.5 362.3 L1662.0 362.0 L1663.5 362.3 L1665.0 362.9 L1666.5 363.2 L1668.0 362.7 L1669.5 362.3 L1671.0 362.4 L1672.5 362.5 L1674.0 362.5 L1675.5 362.8 L1677.0 363.0 L1678.5 362.7 L1680.0 362.7 L1681.5 362.9 L1683.0 362.7 L1684.5 362.5 L1686.0 362.5 L1687.5 362.3 L1689.0 362.2 L1690.5 362.3 L1692.0 362.2 L1693.5 361.9 L1695.0 361.7 L1696.5 362.1 L1698.0 362.8 L1699.5 363.0 L1701.0 362.8 L1702.5 362.6 L1704.0 362.3 L1705.5 362.2 L1707.0 362.2 L1708.5 361.9 L1710.0 361.9 L1711.5 362.1 L1713.0 362.0 L1714.5 362.0 L1716.0 362.2 L1717.5 362.3 L1719.0 362.4 L1720.5 362.3 L1722.0 362.1 L1723.5 362.1 L1725.0 362.1 L1726.5 361.9 L1728.0 362.1 L1729.5 362.3 L1731.0 362.5 L1732.5 362.3 L1734.0 361.8 L1735.5 361.7 L1737.0 361.9 L1738.5 362.0 L1740.0 361.9 L1741.5 362.0 L1743.0 362.2 L1744.5 362.0 L1746.0 361.9 L1747.5 362.3 L1749.0 362.3 L1750.5 362.1 L1752.0 362.0 L1753.5 362.0 L1755.0 362.1 L1756.5 361.9 L1758.0 361.6 L1759.5 361.6 L1761.0 361.7 L1762.5 361.8 L1764.0 361.9 L1765.5 361.8 L1767.0 361.3 L1768.5 360.9 L1770.0 361.2 L1771.5 361.4 L1773.0 361.8 L1774.5 362.1 L1776.0 361.9 L1777.5 361.7 L1779.0 361.6 L1780.5 361.6 L1782.0 361.5 L1783.5 361.4 L1785.0 361.5 L1786.5 361.8 L1788.0 361.9 L1789.5 361.8 L1791.0 361.7 L1792.5 361.6 L1794.0 361.6 L1795.5 361.8 L1797.0 361.9 L1798.5 361.6 L1800.0 361.3 L1801.5 361.5 L1803.0 361.8 L1804.5 361.6 L1806.0 361.6 L1807.5 361.9 L1809.0 362.0 L1810.5 361.7 L1812.0 361.7 L1813.5 362.0 L1815.0 361.9 L1816.5 361.6 L1818.0 361.3 L1819.5 360.9 L1821.0 360.9 L1822.5 361.3 L1824.0 361.5 L1825.5 361.2 L1827.0 360.8 L1828.5 360.8 L1830.0 360.9 L1831.5 361.0 L1833.0 361.5 L1834.5 362.0 L1836.0 362.2 L1837.5 361.7 L1839.0 361.1 L1840.5 360.5 L1842.0 360.2 L1843.5 360.6 L1845.0 361.2 L1846.5 361.4 L1848.0 361.5 L1849.5 361.4 L1851.0 361.3 L1852.5 361.5 L1854.0 361.4 L1855.5 361.0 L1857.0 360.7 L1858.5 360.9 L1860.0 361.4 L1861.5 361.6 L1863.0 361.2 L1864.5 360.8 L1866.0 360.9 L1867.5 361.0 L1869.0 361.0 L1870.5 361.0 L1872.0 361.0 L1873.5 361.0 L1875.0 361.1 L1876.5 361.1 L1878.0 360.9 L1879.5 360.8 L1881.0 360.9 L1882.5 361.0 L1884.0 361.0 L1885.5 360.9 L1887.0 360.6 L1888.5 360.6 L1890.0 360.8 L1891.5 360.8 L1893.0 360.9 L1894.5 360.8 L1896.0 360.4 L1897.5 360.3 L1899.0 360.5 L1900.5 360.4 L1902.0 360.5 L1903.5 360.8 L1905.0 360.8 L1906.5 360.8 L1908.0 360.7 L1909.5 360.7 L1911.0 360.6 L1912.5 360.7 L1914.0 360.9 L1915.5 360.7 L1917.0 360.5 L1918.5 360.4 L1920.0 360.6 L1921.5 360.8 L1923.0 360.6 L1924.5 360.5 L1926.0 361.0 L1927.5 361.3 L1929.0 360.9 L1930.5 360.7 L1932.0 360.5 L1933.5 360.1 L1935.0 360.3 L1936.5 360.6 L1938.0 360.8 L1939.5 360.6 L1941.0 360.4 L1942.5 360.5 L1944.0 360.6 L1945.5 360.5 L1947.0 360.4 L1948.5 360.2 L1950.0 360.5 L1951.5 361.0 L1953.0 361.2 L1954.5 361.0 L1956.0 360.9 L1957.5 361.0 L1959.0 361.2 L1960.5 361.2 L1962.0 361.0 L1963.5 360.7 L1965.0 360.6 L1966.5 360.7 L1968.0 360.7 L1969.5 360.6 L1971.0 360.2 L1972.5 359.9 L1974.0 359.9 L1975.5 360.0 L1977.0 360.3 L1978.5 360.4 L1980.0 360.3 L1981.5 360.6 L1983.0 360.9 L1984.5 360.9 L1986.0 361.2 L1987.5 361.1 L1989.0 360.6 L1990.5 360.7 L1992.0 360.9 L1993.5 360.9 L1995.0 360.8 L1996.5 360.5 L1998.0 360.3 L1999.5 360.3 L2001.0 360.3 L2002.5 360.3 L2004.0 360.1 L2005.5 360.3 L2007.0 360.6 L2008.5 360.7 L2010.0 360.5 L2011.5 360.2 L2013.0 360.2 L2014.5 360.4 L2016.0 360.6 L2017.5 360.7 L2019.0 360.8 L2020.5 360.8 L2022.0 360.7 L2023.5 360.8 L2025.0 360.8 L2026.5 360.8 L2028.0 361.0 L2029.5 361.0 L2031.0 360.9 L2032.5 360.9 L2034.0 361.0 L2035.5 361.2 L2037.0 361.2 L2038.5 361.1 L2040.0 361.1 L2041.5 361.1 L2043.0 361.2 L2044.5 360.8 L2046.0 360.6 L2047.5 361.0 L2049.0 361.0 L2050.0 360.7" fill="none" stroke="#FFD200" stroke-width="3.5" stroke-linejoin="round" stroke-linecap="butt"/>
<path d="M177.0 439.6 L178.5 439.7 L180.0 439.8 L181.5 439.9 L183.0 440.1 L184.5 440.2 L186.0 440.4 L187.5 440.6 L189.0 440.7 L190.5 440.9 L192.0 441.1 L193.5 441.3 L195.0 441.5 L196.5 441.7 L198.0 441.9 L199.5 442.1 L201.0 442.3 L202.5 442.5 L204.0 442.7 L205.5 442.8 L207.0 443.0 L208.5 443.2 L210.0 443.4 L211.5 443.5 L213.0 443.7 L214.5 443.8 L216.0 444.0 L217.5 444.1 L219.0 444.2 L220.5 444.3 L222.0 444.4 L223.5 444.4 L225.0 444.5 L226.5 444.5 L228.0 444.5 L229.5 444.5 L231.0 444.5 L232.5 444.5 L234.0 444.4 L235.5 444.3 L237.0 444.2 L238.5 444.1 L240.0 443.9 L241.5 443.7 L243.0 443.5 L244.5 443.3 L246.0 443.1 L247.5 442.8 L249.0 442.6 L250.5 442.3 L252.0 442.0 L253.5 441.7 L255.0 441.3 L256.5 441.0 L258.0 440.6 L259.5 440.2 L261.0 439.8 L262.5 439.4 L264.0 439.0 L265.5 438.6 L267.0 438.2 L268.5 437.8 L270.0 437.3 L271.5 436.9 L273.0 436.5 L274.5 436.0 L276.0 435.6 L277.5 435.2 L279.0 434.8 L280.5 434.4 L282.0 434.0 L283.5 433.6 L285.0 433.2 L286.5 432.8 L288.0 432.5 L289.5 432.1 L291.0 431.8 L292.5 431.5 L294.0 431.2 L295.5 431.0 L297.0 430.7 L298.5 430.4 L300.0 430.2 L301.5 430.0 L303.0 429.8 L304.5 429.6 L306.0 429.4 L307.5 429.2 L309.0 429.0 L310.5 428.8 L312.0 428.7 L313.5 428.5 L315.0 428.3 L316.5 428.2 L318.0 428.0 L319.5 427.9 L321.0 427.8 L322.5 427.6 L324.0 427.5 L325.5 427.4 L327.0 427.2 L328.5 427.1 L330.0 427.0 L331.5 426.8 L333.0 426.7 L334.5 426.5 L336.0 426.4 L337.5 426.3 L339.0 426.1 L340.5 426.0 L342.0 425.8 L343.5 425.7 L345.0 425.5 L346.5 425.4 L348.0 425.2 L349.5 425.0 L351.0 424.9 L352.5 424.7 L354.0 424.5 L355.5 424.4 L357.0 424.2 L358.5 424.0 L360.0 423.9 L361.5 423.7 L363.0 423.5 L364.5 423.3 L366.0 423.1 L367.5 423.0 L369.0 422.8 L370.5 422.6 L372.0 422.4 L373.5 422.2 L375.0 422.0 L376.5 421.8 L378.0 421.6 L379.5 421.4 L381.0 421.1 L382.5 420.9 L384.0 420.7 L385.5 420.5 L387.0 420.3 L388.5 420.0 L390.0 419.8 L391.5 419.6 L393.0 419.3 L394.5 419.1 L396.0 418.8 L397.5 418.6 L399.0 418.3 L400.5 418.1 L402.0 417.8 L403.5 417.6 L405.0 417.3 L406.5 417.0 L408.0 416.7 L409.5 416.5 L411.0 416.2 L412.5 415.9 L414.0 415.6 L415.5 415.3 L417.0 415.0 L418.5 414.7 L420.0 414.4 L421.5 414.1 L423.0 413.8 L424.5 413.4 L426.0 413.1 L427.5 412.8 L429.0 412.4 L430.5 412.1 L432.0 411.8 L433.5 411.4 L435.0 411.1 L436.5 410.8 L438.0 410.4 L439.5 410.1 L441.0 409.8 L442.5 409.5 L444.0 409.2 L445.5 408.9 L447.0 408.7 L448.5 408.5 L450.0 408.2 L451.5 408.0 L453.0 407.9 L454.5 407.7 L456.0 407.6 L457.5 407.5 L459.0 407.5 L460.5 407.4 L462.0 407.4 L463.5 407.5 L465.0 407.6 L466.5 407.7 L468.0 407.8 L469.5 408.0 L471.0 408.3 L472.5 408.5 L474.0 408.8 L475.5 409.1 L477.0 409.5 L478.5 409.8 L480.0 410.3 L481.5 410.7 L483.0 411.1 L484.5 411.6 L486.0 412.1 L487.5 412.7 L489.0 413.2 L490.5 413.8 L492.0 414.4 L493.5 415.0 L495.0 415.6 L496.5 416.3 L498.0 416.9 L499.5 417.6 L501.0 418.3 L502.5 419.0 L504.0 419.7 L505.5 420.5 L507.0 421.2 L508.5 421.9 L510.0 422.7 L511.5 423.4 L513.0 424.2 L514.5 425.0 L516.0 425.7 L517.5 426.5 L519.0 427.3 L520.5 428.1 L522.0 428.8 L523.5 429.5 L525.0 430.2 L526.5 431.0 L528.0 431.8 L529.5 432.6 L531.0 433.3 L532.5 434.1 L534.0 434.9 L535.5 435.6 L537.0 436.3 L538.5 437.0 L540.0 437.7 L541.5 438.4 L543.0 439.0 L544.5 439.5 L546.0 440.2 L547.5 440.9 L549.0 441.7 L550.5 442.4 L552.0 443.0 L553.5 443.6 L555.0 444.1 L556.5 444.5 L558.0 445.0 L559.5 445.6 L561.0 446.2 L562.5 446.8 L564.0 447.3 L565.5 447.7 L567.0 448.2 L568.5 448.8 L570.0 449.3 L571.5 449.8 L573.0 450.3 L574.5 450.6 L576.0 450.9 L577.5 451.5 L579.0 452.0 L580.5 452.2 L582.0 452.7 L583.5 453.1 L585.0 453.3 L586.5 453.4 L588.0 453.8 L589.5 453.9 L591.0 453.9 L592.5 454.2 L594.0 454.4 L595.5 454.5 L597.0 454.7 L598.5 454.8 L600.0 454.7 L601.5 454.7 L603.0 455.0 L604.5 455.2 L606.0 455.0 L607.5 454.8 L609.0 454.9 L610.5 455.0 L612.0 454.8 L613.5 454.4 L615.0 454.2 L616.5 453.9 L618.0 453.5 L619.5 453.5 L621.0 453.4 L622.5 453.0 L624.0 452.6 L625.5 452.5 L627.0 452.2 L628.5 451.8 L630.0 451.2 L631.5 450.8 L633.0 450.5 L634.5 449.9 L636.0 449.4 L637.5 449.2 L639.0 448.7 L640.5 447.9 L642.0 447.1 L643.5 446.7 L645.0 446.4 L646.5 446.1 L648.0 445.7 L649.5 445.2 L651.0 444.7 L652.5 444.2 L654.0 443.7 L655.5 443.3 L657.0 443.1 L658.5 442.9 L660.0 442.4 L661.5 441.7 L663.0 441.3 L664.5 440.9 L666.0 440.5 L667.5 440.3 L669.0 440.2 L670.5 440.1 L672.0 439.9 L673.5 439.5 L675.0 439.3 L676.5 439.3 L678.0 439.4 L679.5 439.5 L681.0 439.6 L682.5 439.7 L684.0 439.8 L685.5 439.9 L687.0 439.8 L688.5 439.8 L690.0 440.1 L691.5 440.7 L693.0 441.2 L694.5 441.4 L696.0 441.6 L697.5 441.8 L699.0 442.1 L700.5 442.6 L702.0 443.1 L703.5 443.5 L705.0 443.9 L706.5 444.3 L708.0 444.9 L709.5 445.3 L711.0 445.8 L712.5 446.4 L714.0 446.9 L715.5 447.4 L717.0 448.0 L718.5 448.5 L720.0 448.9 L721.5 449.4 L723.0 449.8 L724.5 450.2 L726.0 450.7 L727.5 451.4 L729.0 451.9 L730.5 452.4 L732.0 452.9 L733.5 453.3 L735.0 453.9 L736.5 454.5 L738.0 455.0 L739.5 455.6 L741.0 455.9 L742.5 456.2 L744.0 456.5 L745.5 456.9 L747.0 457.3 L748.5 457.5 L750.0 457.9 L751.5 458.2 L753.0 458.6 L754.5 458.8 L756.0 459.0 L757.5 459.2 L759.0 459.5 L760.5 459.5 L762.0 459.9 L763.5 460.2 L765.0 460.0 L766.5 460.3 L768.0 460.6 L769.5 460.8 L771.0 461.0 L772.5 460.9 L774.0 461.2 L775.5 461.6 L777.0 461.4 L778.5 461.3 L780.0 461.2 L781.5 461.2 L783.0 461.2 L784.5 461.0 L786.0 461.1 L787.5 461.1 L789.0 460.9 L790.5 460.7 L792.0 460.6 L793.5 460.5 L795.0 460.6 L796.5 460.3 L798.0 459.9 L799.5 459.7 L801.0 459.4 L802.5 459.2 L804.0 459.0 L805.5 458.7 L807.0 458.4 L808.5 458.1 L810.0 457.8 L811.5 457.4 L813.0 456.9 L814.5 456.4 L816.0 455.8 L817.5 455.4 L819.0 455.1 L820.5 454.8 L822.0 454.4 L823.5 453.8 L825.0 453.1 L826.5 452.5 L828.0 452.0 L829.5 451.6 L831.0 451.2 L832.5 450.6 L834.0 449.9 L835.5 449.4 L837.0 449.1 L838.5 448.6 L840.0 448.1 L841.5 447.7 L843.0 447.2 L844.5 446.7 L846.0 446.1 L847.5 445.7 L849.0 445.4 L850.5 445.0 L852.0 444.6 L853.5 444.3 L855.0 444.1 L856.5 443.8 L858.0 443.3 L859.5 442.8 L861.0 442.5 L862.5 442.3 L864.0 442.1 L865.5 442.0 L867.0 441.8 L868.5 441.7 L870.0 441.4 L871.5 441.0 L873.0 440.7 L874.5 440.5 L876.0 440.4 L877.5 440.1 L879.0 439.7 L880.5 439.7 L882.0 439.6 L883.5 439.4 L885.0 439.1 L886.5 438.6 L888.0 438.5 L889.5 438.7 L891.0 438.4 L892.5 438.1 L894.0 438.0 L895.5 437.8 L897.0 437.3 L898.5 437.1 L900.0 437.2 L901.5 437.4 L903.0 437.4 L904.5 437.2 L906.0 437.2 L907.5 437.0 L909.0 436.7 L910.5 436.6 L912.0 436.6 L913.5 436.4 L915.0 436.5 L916.5 436.5 L918.0 436.3 L919.5 436.1 L921.0 436.3 L922.5 436.5 L924.0 436.1 L925.5 435.8 L927.0 436.1 L928.5 436.2 L930.0 436.0 L931.5 435.9 L933.0 435.9 L934.5 435.7 L936.0 435.5 L937.5 435.6 L939.0 435.7 L940.5 435.8 L942.0 435.7 L943.5 435.7 L945.0 435.6 L946.5 435.6 L948.0 435.4 L949.5 435.1 L951.0 435.0 L952.5 435.1 L954.0 435.0 L955.5 434.9 L957.0 435.0 L958.5 434.9 L960.0 434.9 L961.5 434.8 L963.0 434.5 L964.5 434.8 L966.0 435.1 L967.5 434.7 L969.0 434.5 L970.5 434.7 L972.0 434.6 L973.5 434.2 L975.0 434.1 L976.5 434.1 L978.0 434.1 L979.5 434.1 L981.0 434.0 L982.5 433.8 L984.0 433.7 L985.5 433.6 L987.0 433.5 L988.5 433.5 L990.0 433.4 L991.5 433.4 L993.0 433.6 L994.5 433.4 L996.0 433.2 L997.5 433.3 L999.0 433.3 L1000.5 433.3 L1002.0 433.3 L1003.5 433.3 L1005.0 433.2 L1006.5 433.1 L1008.0 433.3 L1009.5 433.3 L1011.0 433.0 L1012.5 433.1 L1014.0 433.2 L1015.5 433.0 L1017.0 433.2 L1018.5 433.5 L1020.0 433.7 L1021.5 433.8 L1023.0 433.8 L1024.5 433.7 L1026.0 433.8 L1027.5 434.0 L1029.0 434.1 L1030.5 434.1 L1032.0 434.1 L1033.5 434.3 L1035.0 434.6 L1036.5 434.6 L1038.0 434.5 L1039.5 434.6 L1041.0 434.9 L1042.5 435.0 L1044.0 435.0 L1045.5 435.2 L1047.0 435.5 L1048.5 435.9 L1050.0 436.1 L1051.5 436.4 L1053.0 436.6 L1054.5 436.9 L1056.0 437.2 L1057.5 437.3 L1059.0 437.2 L1060.5 437.1 L1062.0 437.0 L1063.5 437.5 L1065.0 438.1 L1066.5 438.3 L1068.0 438.4 L1069.5 438.7 L1071.0 438.9 L1072.5 438.8 L1074.0 438.8 L1075.5 439.1 L1077.0 439.5 L1078.5 439.8 L1080.0 439.9 L1081.5 440.0 L1083.0 440.4 L1084.5 440.7 L1086.0 440.9 L1087.5 441.1 L1089.0 441.2 L1090.5 441.1 L1092.0 441.0 L1093.5 441.3 L1095.0 441.8 L1096.5 442.0 L1098.0 442.0 L1099.5 442.0 L1101.0 442.2 L1102.5 442.3 L1104.0 442.4 L1105.5 442.6 L1107.0 443.0 L1108.5 443.0 L1110.0 442.7 L1111.5 442.7 L1113.0 443.0 L1114.5 443.3 L1116.0 443.5 L1117.5 443.4 L1119.0 443.4 L1120.5 443.4 L1122.0 443.5 L1123.5 443.8 L1125.0 444.1 L1126.5 444.1 L1128.0 443.9 L1129.5 443.8 L1131.0 444.0 L1132.5 443.8 L1134.0 443.6 L1135.5 443.7 L1137.0 444.0 L1138.5 444.1 L1140.0 444.1 L1141.5 444.2 L1143.0 444.3 L1144.5 444.1 L1146.0 444.0 L1147.5 444.0 L1149.0 444.1 L1150.5 444.1 L1152.0 444.0 L1153.5 443.9 L1155.0 443.7 L1156.5 443.4 L1158.0 443.5 L1159.5 443.7 L1161.0 443.9 L1162.5 443.8 L1164.0 443.7 L1165.5 443.7 L1167.0 443.7 L1168.5 443.5 L1170.0 443.2 L1171.5 443.1 L1173.0 443.0 L1174.5 442.9 L1176.0 443.0 L1177.5 443.0 L1179.0 442.9 L1180.5 442.9 L1182.0 442.7 L1183.5 442.4 L1185.0 442.3 L1186.5 442.2 L1188.0 442.2 L1189.5 442.3 L1191.0 442.3 L1192.5 442.2 L1194.0 441.9 L1195.5 441.6 L1197.0 441.4 L1198.5 441.3 L1200.0 441.4 L1201.5 441.4 L1203.0 441.4 L1204.5 441.4 L1206.0 441.3 L1207.5 441.1 L1209.0 441.0 L1210.5 440.9 L1212.0 440.8 L1213.5 440.7 L1215.0 440.5 L1216.5 440.6 L1218.0 440.7 L1219.5 440.4 L1221.0 440.0 L1222.5 439.8 L1224.0 439.8 L1225.5 440.0 L1227.0 439.9 L1228.5 439.9 L1230.0 440.2 L1231.5 440.1 L1233.0 439.7 L1234.5 439.6 L1236.0 439.6 L1237.5 439.5 L1239.0 439.4 L1240.5 439.4 L1242.0 439.5 L1243.5 439.4 L1245.0 439.3 L1246.5 439.4 L1248.0 439.3 L1249.5 439.2 L1251.0 439.2 L1252.5 439.3 L1254.0 439.1 L1255.5 438.9 L1257.0 438.7 L1258.5 438.7 L1260.0 438.7 L1261.5 438.9 L1263.0 438.8 L1264.5 438.6 L1266.0 438.9 L1267.5 439.1 L1269.0 439.0 L1270.5 439.0 L1272.0 439.2 L1273.5 439.0 L1275.0 438.9 L1276.5 439.0 L1278.0 439.3 L1279.5 439.6 L1281.0 439.7 L1282.5 439.5 L1284.0 439.3 L1285.5 439.3 L1287.0 439.5 L1288.5 439.5 L1290.0 439.6 L1291.5 439.8 L1293.0 440.1 L1294.5 440.2 L1296.0 440.2 L1297.5 440.0 L1299.0 440.0 L1300.5 440.3 L1302.0 440.8 L1303.5 440.9 L1305.0 440.9 L1306.5 441.0 L1308.0 441.1 L1309.5 441.3 L1311.0 441.3 L1312.5 441.3 L1314.0 441.4 L1315.5 441.4 L1317.0 441.3 L1318.5 441.4 L1320.0 441.8 L1321.5 442.0 L1323.0 442.0 L1324.5 442.2 L1326.0 442.5 L1327.5 442.4 L1329.0 442.5 L1330.5 442.9 L1332.0 443.1 L1333.5 442.9 L1335.0 442.7 L1336.5 442.9 L1338.0 443.3 L1339.5 443.5 L1341.0 443.6 L1342.5 443.5 L1344.0 443.6 L1345.5 443.8 L1347.0 444.0 L1348.5 444.1 L1350.0 444.2 L1351.5 444.0 L1353.0 443.9 L1354.5 444.0 L1356.0 444.2 L1357.5 444.5 L1359.0 444.9 L1360.5 445.1 L1362.0 444.9 L1363.5 444.8 L1365.0 444.9 L1366.5 445.1 L1368.0 445.4 L1369.5 445.5 L1371.0 445.4 L1372.5 445.2 L1374.0 445.1 L1375.5 445.2 L1377.0 445.4 L1378.5 445.6 L1380.0 445.7 L1381.5 445.6 L1383.0 445.8 L1384.5 446.0 L1386.0 445.8 L1387.5 445.7 L1389.0 445.8 L1390.5 445.8 L1392.0 445.9 L1393.5 446.2 L1395.0 446.2 L1396.5 445.9 L1398.0 445.9 L1399.5 446.0 L1401.0 446.0 L1402.5 446.0 L1404.0 446.0 L1405.5 446.1 L1407.0 446.0 L1408.5 445.9 L1410.0 445.9 L1411.5 445.9 L1413.0 445.9 L1414.5 446.0 L1416.0 445.9 L1417.5 445.7 L1419.0 445.6 L1420.5 445.4 L1422.0 445.3 L1423.5 445.3 L1425.0 445.3 L1426.5 445.2 L1428.0 445.1 L1429.5 445.2 L1431.0 445.1 L1432.5 445.0 L1434.0 445.2 L1435.5 445.1 L1437.0 445.0 L1438.5 445.0 L1440.0 444.8 L1441.5 444.7 L1443.0 444.8 L1444.5 444.5 L1446.0 444.4 L1447.5 444.3 L1449.0 444.1 L1450.5 444.0 L1452.0 444.3 L1453.5 444.3 L1455.0 443.9 L1456.5 443.7 L1458.0 443.8 L1459.5 443.5 L1461.0 443.3 L1462.5 443.4 L1464.0 443.4 L1465.5 443.4 L1467.0 443.4 L1468.5 443.3 L1470.0 443.1 L1471.5 442.8 L1473.0 442.6 L1474.5 442.6 L1476.0 442.6 L1477.5 442.5 L1479.0 442.3 L1480.5 442.3 L1482.0 442.6 L1483.5 442.6 L1485.0 442.2 L1486.5 442.0 L1488.0 442.0 L1489.5 442.1 L1491.0 442.0 L1492.5 441.7 L1494.0 441.6 L1495.5 441.5 L1497.0 441.4 L1498.5 441.4 L1500.0 441.4 L1501.5 441.4 L1503.0 441.5 L1504.5 441.4 L1506.0 441.4 L1507.5 441.3 L1509.0 441.1 L1510.5 441.1 L1512.0 441.1 L1513.5 441.0 L1515.0 441.1 L1516.5 440.9 L1518.0 440.7 L1519.5 440.7 L1521.0 440.8 L1522.5 440.8 L1524.0 440.5 L1525.5 440.4 L1527.0 440.6 L1528.5 440.8 L1530.0 440.7 L1531.5 440.7 L1533.0 440.6 L1534.5 440.4 L1536.0 440.6 L1537.5 440.8 L1539.0 440.9 L1540.5 440.9 L1542.0 440.8 L1543.5 440.7 L1545.0 440.7 L1546.5 441.0 L1548.0 441.2 L1549.5 441.0 L1551.0 440.8 L1552.5 440.7 L1554.0 440.8 L1555.5 440.9 L1557.0 440.7 L1558.5 440.7 L1560.0 440.8 L1561.5 441.0 L1563.0 441.0 L1564.5 440.8 L1566.0 440.9 L1567.5 441.1 L1569.0 440.9 L1570.5 440.9 L1572.0 441.3 L1573.5 441.4 L1575.0 441.0 L1576.5 440.9 L1578.0 441.4 L1579.5 441.5 L1581.0 441.2 L1582.5 441.0 L1584.0 441.4 L1585.5 441.6 L1587.0 441.6 L1588.5 441.5 L1590.0 441.4 L1591.5 441.5 L1593.0 441.9 L1594.5 441.8 L1596.0 441.3 L1597.5 441.5 L1599.0 441.9 L1600.5 441.7 L1602.0 441.5 L1603.5 441.7 L1605.0 441.8 L1606.5 441.8 L1608.0 441.8 L1609.5 441.8 L1611.0 441.9 L1612.5 441.9 L1614.0 441.9 L1615.5 441.9 L1617.0 442.1 L1618.5 442.3 L1620.0 442.3 L1621.5 442.2 L1623.0 442.3 L1624.5 442.4 L1626.0 442.5 L1627.5 442.6 L1629.0 442.7 L1630.5 442.7 L1632.0 442.4 L1633.5 442.4 L1635.0 442.6 L1636.5 442.6 L1638.0 442.4 L1639.5 442.1 L1641.0 442.1 L1642.5 442.5 L1644.0 442.7 L1645.5 442.6 L1647.0 442.5 L1648.5 442.6 L1650.0 442.6 L1651.5 442.6 L1653.0 442.6 L1654.5 442.5 L1656.0 442.3 L1657.5 442.2 L1659.0 442.2 L1660.5 442.3 L1662.0 442.6 L1663.5 442.7 L1665.0 442.8 L1666.5 442.7 L1668.0 442.6 L1669.5 442.6 L1671.0 442.6 L1672.5 442.7 L1674.0 442.6 L1675.5 442.4 L1677.0 442.5 L1678.5 442.5 L1680.0 442.6 L1681.5 442.8 L1683.0 442.8 L1684.5 442.5 L1686.0 442.2 L1687.5 442.1 L1689.0 442.2 L1690.5 442.2 L1692.0 442.0 L1693.5 442.3 L1695.0 442.4 L1696.5 442.2 L1698.0 442.1 L1699.5 442.2 L1701.0 442.2 L1702.5 442.0 L1704.0 442.2 L1705.5 442.5 L1707.0 442.4 L1708.5 442.2 L1710.0 442.0 L1711.5 441.9 L1713.0 442.0 L1714.5 442.0 L1716.0 441.9 L1717.5 442.0 L1719.0 442.2 L1720.5 442.0 L1722.0 441.6 L1723.5 441.4 L1725.0 441.5 L1726.5 441.9 L1728.0 442.0 L1729.5 441.8 L1731.0 441.5 L1732.5 441.4 L1734.0 441.5 L1735.5 441.5 L1737.0 441.4 L1738.5 441.5 L1740.0 441.6 L1741.5 441.4 L1743.0 441.1 L1744.5 440.9 L1746.0 441.1 L1747.5 441.3 L1749.0 441.2 L1750.5 441.1 L1752.0 441.1 L1753.5 441.2 L1755.0 441.2 L1756.5 441.1 L1758.0 440.9 L1759.5 440.9 L1761.0 440.9 L1762.5 440.8 L1764.0 440.7 L1765.5 440.9 L1767.0 441.1 L1768.5 441.2 L1770.0 441.1 L1771.5 440.9 L1773.0 440.7 L1774.5 440.5 L1776.0 440.7 L1777.5 441.0 L1779.0 441.0 L1780.5 440.9 L1782.0 440.9 L1783.5 440.7 L1785.0 440.6 L1786.5 440.7 L1788.0 440.8 L1789.5 440.8 L1791.0 440.7 L1792.5 440.6 L1794.0 440.4 L1795.5 440.4 L1797.0 440.4 L1798.5 440.4 L1800.0 440.2 L1801.5 440.5 L1803.0 440.8 L1804.5 440.5 L1806.0 440.2 L1807.5 440.5 L1809.0 440.6 L1810.5 440.6 L1812.0 440.5 L1813.5 440.4 L1815.0 440.6 L1816.5 440.9 L1818.0 440.6 L1819.5 440.3 L1821.0 440.3 L1822.5 440.4 L1824.0 440.5 L1825.5 440.5 L1827.0 440.3 L1828.5 440.2 L1830.0 440.3 L1831.5 440.3 L1833.0 440.1 L1834.5 440.0 L1836.0 440.0 L1837.5 440.1 L1839.0 440.1 L1840.5 440.1 L1842.0 440.2 L1843.5 440.2 L1845.0 440.1 L1846.5 440.0 L1848.0 440.2 L1849.5 440.2 L1851.0 439.9 L1852.5 439.9 L1854.0 440.0 L1855.5 440.1 L1857.0 440.3 L1858.5 440.3 L1860.0 440.2 L1861.5 440.3 L1863.0 440.6 L1864.5 440.7 L1866.0 440.4 L1867.5 440.1 L1869.0 440.1 L1870.5 440.4 L1872.0 440.3 L1873.5 440.3 L1875.0 440.2 L1876.5 440.2 L1878.0 440.3 L1879.5 440.4 L1881.0 440.3 L1882.5 440.3 L1884.0 440.3 L1885.5 440.3 L1887.0 440.5 L1888.5 440.6 L1890.0 440.6 L1891.5 440.5 L1893.0 440.2 L1894.5 440.0 L1896.0 440.2 L1897.5 440.4 L1899.0 440.3 L1900.5 440.2 L1902.0 440.0 L1903.5 440.2 L1905.0 440.5 L1906.5 440.6 L1908.0 440.3 L1909.5 440.3 L1911.0 440.4 L1912.5 440.5 L1914.0 440.6 L1915.5 440.5 L1917.0 440.3 L1918.5 440.6 L1920.0 440.6 L1921.5 440.4 L1923.0 440.5 L1924.5 440.6 L1926.0 440.5 L1927.5 440.3 L1929.0 440.1 L1930.5 440.4 L1932.0 440.7 L1933.5 440.9 L1935.0 440.9 L1936.5 440.6 L1938.0 440.3 L1939.5 440.2 L1941.0 440.2 L1942.5 440.2 L1944.0 440.0 L1945.5 439.9 L1947.0 440.2 L1948.5 440.6 L1950.0 440.8 L1951.5 440.6 L1953.0 440.4 L1954.5 440.3 L1956.0 440.1 L1957.5 440.0 L1959.0 440.1 L1960.5 440.5 L1962.0 440.4 L1963.5 440.2 L1965.0 440.3 L1966.5 440.5 L1968.0 440.5 L1969.5 440.3 L1971.0 440.1 L1972.5 440.1 L1974.0 440.3 L1975.5 440.4 L1977.0 440.1 L1978.5 440.1 L1980.0 440.3 L1981.5 440.3 L1983.0 440.4 L1984.5 440.4 L1986.0 440.5 L1987.5 440.6 L1989.0 440.5 L1990.5 440.3 L1992.0 440.0 L1993.5 440.0 L1995.0 440.3 L1996.5 440.5 L1998.0 440.7 L1999.5 440.6 L2001.0 440.3 L2002.5 440.2 L2004.0 440.2 L2005.5 440.1 L2007.0 439.9 L2008.5 439.9 L2010.0 440.0 L2011.5 439.9 L2013.0 439.8 L2014.5 439.8 L2016.0 439.9 L2017.5 439.9 L2019.0 439.8 L2020.5 439.6 L2022.0 439.7 L2023.5 439.9 L2025.0 439.8 L2026.5 439.7 L2028.0 439.5 L2029.5 439.3 L2031.0 439.6 L2032.5 439.7 L2034.0 439.5 L2035.5 439.5 L2037.0 439.4 L2038.5 439.3 L2040.0 439.4 L2041.5 439.6 L2043.0 439.6 L2044.5 439.4 L2046.0 439.5 L2047.5 439.4 L2049.0 439.0 L2050.0 438.9" fill="none" stroke="#00FF40" stroke-width="4.2" stroke-linejoin="round" stroke-linecap="butt"/>
<path d="M177.0 570.1 L178.5 570.0 L180.0 569.8 L181.5 569.8 L183.0 569.7 L184.5 569.8 L186.0 569.8 L187.5 570.0 L189.0 570.2 L190.5 570.4 L192.0 570.7 L193.5 571.0 L195.0 571.3 L196.5 571.6 L198.0 572.0 L199.5 572.4 L201.0 572.8 L202.5 573.2 L204.0 573.6 L205.5 574.0 L207.0 574.4 L208.5 574.8 L210.0 575.2 L211.5 575.5 L213.0 575.9 L214.5 576.2 L216.0 576.5 L217.5 576.7 L219.0 576.9 L220.5 577.0 L222.0 577.2 L223.5 577.2 L225.0 577.3 L226.5 577.3 L228.0 577.2 L229.5 577.1 L231.0 577.0 L232.5 576.8 L234.0 576.6 L235.5 576.3 L237.0 576.0 L238.5 575.6 L240.0 575.2 L241.5 574.8 L243.0 574.3 L244.5 573.8 L246.0 573.2 L247.5 572.6 L249.0 571.9 L250.5 571.2 L252.0 570.5 L253.5 569.7 L255.0 568.8 L256.5 568.0 L258.0 567.1 L259.5 566.2 L261.0 565.2 L262.5 564.3 L264.0 563.3 L265.5 562.3 L267.0 561.3 L268.5 560.3 L270.0 559.2 L271.5 558.2 L273.0 557.2 L274.5 556.2 L276.0 555.2 L277.5 554.2 L279.0 553.2 L280.5 552.2 L282.0 551.3 L283.5 550.4 L285.0 549.5 L286.5 548.6 L288.0 547.8 L289.5 547.0 L291.0 546.2 L292.5 545.5 L294.0 544.8 L295.5 544.2 L297.0 543.6 L298.5 543.1 L300.0 542.6 L301.5 542.1 L303.0 541.6 L304.5 541.2 L306.0 540.8 L307.5 540.5 L309.0 540.1 L310.5 539.8 L312.0 539.5 L313.5 539.2 L315.0 539.0 L316.5 538.7 L318.0 538.4 L319.5 538.2 L321.0 537.9 L322.5 537.7 L324.0 537.4 L325.5 537.1 L327.0 536.9 L328.5 536.6 L330.0 536.3 L331.5 536.0 L333.0 535.6 L334.5 535.3 L336.0 534.9 L337.5 534.6 L339.0 534.2 L340.5 533.8 L342.0 533.4 L343.5 533.0 L345.0 532.5 L346.5 532.1 L348.0 531.6 L349.5 531.2 L351.0 530.7 L352.5 530.2 L354.0 529.7 L355.5 529.2 L357.0 528.7 L358.5 528.2 L360.0 527.6 L361.5 527.1 L363.0 526.6 L364.5 526.0 L366.0 525.4 L367.5 524.9 L369.0 524.3 L370.5 523.7 L372.0 523.1 L373.5 522.5 L375.0 521.9 L376.5 521.3 L378.0 520.7 L379.5 520.1 L381.0 519.5 L382.5 518.8 L384.0 518.2 L385.5 517.6 L387.0 516.9 L388.5 516.3 L390.0 515.6 L391.5 515.0 L393.0 514.4 L394.5 513.7 L396.0 513.1 L397.5 512.4 L399.0 511.8 L400.5 511.1 L402.0 510.4 L403.5 509.8 L405.0 509.1 L406.5 508.5 L408.0 507.8 L409.5 507.2 L411.0 506.5 L412.5 505.9 L414.0 505.3 L415.5 504.6 L417.0 504.0 L418.5 503.3 L420.0 502.7 L421.5 502.1 L423.0 501.4 L424.5 500.8 L426.0 500.2 L427.5 499.6 L429.0 499.0 L430.5 498.4 L432.0 497.8 L433.5 497.2 L435.0 496.7 L436.5 496.1 L438.0 495.6 L439.5 495.1 L441.0 494.6 L442.5 494.2 L444.0 493.8 L445.5 493.4 L447.0 493.0 L448.5 492.7 L450.0 492.4 L451.5 492.2 L453.0 492.0 L454.5 491.9 L456.0 491.8 L457.5 491.8 L459.0 491.8 L460.5 491.9 L462.0 492.0 L463.5 492.2 L465.0 492.5 L466.5 492.8 L468.0 493.2 L469.5 493.7 L471.0 494.3 L472.5 494.9 L474.0 495.6 L475.5 496.4 L477.0 497.3 L478.5 498.2 L480.0 499.3 L481.5 500.4 L483.0 501.5 L484.5 502.7 L486.0 504.0 L487.5 505.4 L489.0 506.8 L490.5 508.2 L492.0 509.7 L493.5 511.3 L495.0 512.9 L496.5 514.5 L498.0 516.2 L499.5 517.9 L501.0 519.6 L502.5 521.4 L504.0 523.1 L505.5 524.9 L507.0 526.8 L508.5 528.6 L510.0 530.4 L511.5 532.3 L513.0 534.2 L514.5 536.0 L516.0 537.9 L517.5 539.7 L519.0 541.5 L520.5 543.4 L522.0 545.2 L523.5 547.0 L525.0 548.7 L526.5 550.5 L528.0 552.2 L529.5 553.9 L531.0 555.5 L532.5 557.2 L534.0 558.8 L535.5 560.3 L537.0 561.9 L538.5 563.4 L540.0 564.9 L541.5 566.4 L543.0 567.9 L544.5 569.4 L546.0 570.8 L547.5 572.3 L549.0 573.7 L550.5 575.1 L552.0 576.5 L553.5 577.9 L555.0 579.3 L556.5 580.7 L558.0 582.1 L559.5 583.5 L561.0 584.9 L562.5 586.3 L564.0 587.6 L565.5 589.0 L567.0 590.3 L568.5 591.6 L570.0 592.9 L571.5 594.1 L573.0 595.3 L574.5 596.5 L576.0 597.6 L577.5 598.7 L579.0 599.7 L580.5 600.7 L582.0 601.7 L583.5 602.5 L585.0 603.3 L586.5 604.1 L588.0 604.8 L589.5 605.4 L591.0 605.9 L592.5 606.4 L594.0 606.7 L595.5 607.0 L597.0 607.2 L598.5 607.3 L600.0 607.3 L601.5 607.3 L603.0 607.1 L604.5 606.9 L606.0 606.6 L607.5 606.3 L609.0 605.8 L610.5 605.3 L612.0 604.8 L613.5 604.2 L615.0 603.5 L616.5 602.8 L618.0 602.1 L619.5 601.3 L621.0 600.4 L622.5 599.6 L624.0 598.7 L625.5 597.7 L627.0 596.8 L628.5 595.8 L630.0 594.8 L631.5 593.8 L633.0 592.8 L634.5 591.8 L636.0 590.7 L637.5 589.7 L639.0 588.7 L640.5 587.7 L642.0 586.6 L643.5 585.6 L645.0 584.7 L646.5 583.7 L648.0 582.7 L649.5 581.8 L651.0 580.9 L652.5 580.0 L654.0 579.1 L655.5 578.3 L657.0 577.5 L658.5 576.7 L660.0 576.0 L661.5 575.3 L663.0 574.6 L664.5 574.0 L666.0 573.4 L667.5 572.9 L669.0 572.4 L670.5 572.0 L672.0 571.6 L673.5 571.3 L675.0 571.0 L676.5 570.8 L678.0 570.7 L679.5 570.6 L681.0 570.6 L682.5 570.7 L684.0 570.8 L685.5 571.0 L687.0 571.3 L688.5 571.7 L690.0 572.2 L691.5 572.7 L693.0 573.3 L694.5 574.0 L696.0 574.8 L697.5 575.7 L699.0 576.7 L700.5 577.7 L702.0 578.8 L703.5 580.0 L705.0 581.2 L706.5 582.4 L708.0 583.7 L709.5 584.9 L711.0 586.2 L712.5 587.5 L714.0 588.8 L715.5 590.1 L717.0 591.3 L718.5 592.5 L720.0 593.7 L721.5 594.8 L723.0 595.9 L724.5 597.0 L726.0 598.0 L727.5 598.9 L729.0 599.9 L730.5 600.8 L732.0 601.7 L733.5 602.5 L735.0 603.3 L736.5 604.1 L738.0 604.9 L739.5 605.6 L741.0 606.3 L742.5 607.0 L744.0 607.7 L745.5 608.4 L747.0 609.0 L748.5 609.6 L750.0 610.3 L751.5 610.9 L753.0 611.5 L754.5 612.0 L756.0 612.6 L757.5 613.1 L759.0 613.7 L760.5 614.2 L762.0 614.7 L763.5 615.1 L765.0 615.6 L766.5 616.0 L768.0 616.4 L769.5 616.8 L771.0 617.1 L772.5 617.4 L774.0 617.7 L775.5 618.0 L777.0 618.2 L778.5 618.4 L780.0 618.6 L781.5 618.7 L783.0 618.8 L784.5 618.9 L786.0 618.9 L787.5 618.9 L789.0 618.8 L790.5 618.7 L792.0 618.6 L793.5 618.4 L795.0 618.2 L796.5 617.9 L798.0 617.6 L799.5 617.3 L801.0 616.8 L802.5 616.4 L804.0 615.9 L805.5 615.3 L807.0 614.7 L808.5 614.1 L810.0 613.3 L811.5 612.6 L813.0 611.8 L814.5 610.9 L816.0 610.0 L817.5 609.1 L819.0 608.1 L820.5 607.1 L822.0 606.1 L823.5 605.0 L825.0 603.9 L826.5 602.8 L828.0 601.6 L829.5 600.4 L831.0 599.3 L832.5 598.1 L834.0 596.9 L835.5 595.7 L837.0 594.4 L838.5 593.2 L840.0 592.0 L841.5 590.8 L843.0 589.6 L844.5 588.4 L846.0 587.2 L847.5 586.0 L849.0 584.8 L850.5 583.7 L852.0 582.6 L853.5 581.5 L855.0 580.4 L856.5 579.4 L858.0 578.4 L859.5 577.4 L861.0 576.5 L862.5 575.6 L864.0 574.7 L865.5 573.8 L867.0 573.0 L868.5 572.3 L870.0 571.5 L871.5 570.8 L873.0 570.1 L874.5 569.5 L876.0 568.8 L877.5 568.2 L879.0 567.7 L880.5 567.1 L882.0 566.6 L883.5 566.1 L885.0 565.7 L886.5 565.2 L888.0 564.8 L889.5 564.4 L891.0 564.0 L892.5 563.7 L894.0 563.4 L895.5 563.1 L897.0 562.8 L898.5 562.5 L900.0 562.3 L901.5 562.1 L903.0 561.8 L904.5 561.7 L906.0 561.5 L907.5 561.3 L909.0 561.2 L910.5 561.1 L912.0 561.0 L913.5 560.9 L915.0 560.8 L916.5 560.7 L918.0 560.7 L919.5 560.6 L921.0 560.6 L922.5 560.5 L924.0 560.5 L925.5 560.5 L927.0 560.5 L928.5 560.4 L930.0 560.4 L931.5 560.4 L933.0 560.4 L934.5 560.4 L936.0 560.4 L937.5 560.4 L939.0 560.3 L940.5 560.3 L942.0 560.3 L943.5 560.3 L945.0 560.2 L946.5 560.2 L948.0 560.1 L949.5 560.0 L951.0 559.9 L952.5 559.8 L954.0 559.7 L955.5 559.6 L957.0 559.5 L958.5 559.3 L960.0 559.2 L961.5 559.0 L963.0 558.8 L964.5 558.6 L966.0 558.4 L967.5 558.2 L969.0 557.9 L970.5 557.7 L972.0 557.4 L973.5 557.1 L975.0 556.9 L976.5 556.7 L978.0 556.5 L979.5 556.2 L981.0 555.9 L982.5 555.6 L984.0 555.4 L985.5 555.3 L987.0 555.1 L988.5 554.8 L990.0 554.6 L991.5 554.4 L993.0 554.1 L994.5 554.0 L996.0 554.0 L997.5 553.9 L999.0 553.8 L1000.5 553.7 L1002.0 553.7 L1003.5 553.6 L1005.0 553.6 L1006.5 553.6 L1008.0 553.6 L1009.5 553.6 L1011.0 553.7 L1012.5 553.8 L1014.0 554.0 L1015.5 554.2 L1017.0 554.3 L1018.5 554.3 L1020.0 554.4 L1021.5 554.7 L1023.0 555.0 L1024.5 555.3 L1026.0 555.4 L1027.5 555.7 L1029.0 556.0 L1030.5 556.2 L1032.0 556.6 L1033.5 557.1 L1035.0 557.4 L1036.5 557.6 L1038.0 557.8 L1039.5 558.0 L1041.0 558.4 L1042.5 558.8 L1044.0 559.1 L1045.5 559.4 L1047.0 559.8 L1048.5 560.2 L1050.0 560.6 L1051.5 561.1 L1053.0 561.3 L1054.5 561.5 L1056.0 561.8 L1057.5 562.2 L1059.0 562.7 L1060.5 563.3 L1062.0 563.7 L1063.5 564.0 L1065.0 564.4 L1066.5 564.7 L1068.0 565.0 L1069.5 565.4 L1071.0 566.0 L1072.5 566.5 L1074.0 566.9 L1075.5 567.4 L1077.0 567.9 L1078.5 568.1 L1080.0 568.5 L1081.5 568.8 L1083.0 569.3 L1084.5 569.8 L1086.0 570.2 L1087.5 570.6 L1089.0 571.1 L1090.5 571.4 L1092.0 571.7 L1093.5 572.0 L1095.0 572.4 L1096.5 572.7 L1098.0 573.1 L1099.5 573.5 L1101.0 573.9 L1102.5 574.3 L1104.0 574.5 L1105.5 574.7 L1107.0 575.1 L1108.5 575.3 L1110.0 575.5 L1111.5 575.9 L1113.0 576.2 L1114.5 576.6 L1116.0 577.0 L1117.5 577.4 L1119.0 577.7 L1120.5 577.9 L1122.0 578.0 L1123.5 578.2 L1125.0 578.4 L1126.5 578.6 L1128.0 578.8 L1129.5 579.1 L1131.0 579.3 L1132.5 579.4 L1134.0 579.5 L1135.5 579.6 L1137.0 579.5 L1138.5 579.6 L1140.0 579.7 L1141.5 579.8 L1143.0 579.9 L1144.5 580.1 L1146.0 580.1 L1147.5 579.9 L1149.0 579.9 L1150.5 579.8 L1152.0 579.9 L1153.5 580.0 L1155.0 579.8 L1156.5 579.5 L1158.0 579.5 L1159.5 579.6 L1161.0 579.6 L1162.5 579.4 L1164.0 579.1 L1165.5 579.0 L1167.0 578.9 L1168.5 578.8 L1170.0 578.7 L1171.5 578.5 L1173.0 578.2 L1174.5 577.9 L1176.0 577.6 L1177.5 577.4 L1179.0 577.4 L1180.5 577.1 L1182.0 576.7 L1183.5 576.5 L1185.0 576.5 L1186.5 576.5 L1188.0 576.2 L1189.5 575.8 L1191.0 575.3 L1192.5 575.2 L1194.0 575.0 L1195.5 574.8 L1197.0 574.5 L1198.5 574.3 L1200.0 574.2 L1201.5 573.9 L1203.0 573.4 L1204.5 573.1 L1206.0 573.0 L1207.5 572.7 L1209.0 572.5 L1210.5 572.3 L1212.0 571.8 L1213.5 571.5 L1215.0 571.3 L1216.5 571.1 L1218.0 570.9 L1219.5 570.8 L1221.0 570.5 L1222.5 570.1 L1224.0 569.9 L1225.5 569.6 L1227.0 569.4 L1228.5 569.3 L1230.0 568.9 L1231.5 568.6 L1233.0 568.5 L1234.5 568.1 L1236.0 567.9 L1237.5 568.0 L1239.0 567.8 L1240.5 567.6 L1242.0 567.4 L1243.5 567.2 L1245.0 567.1 L1246.5 567.3 L1248.0 567.4 L1249.5 567.3 L1251.0 567.0 L1252.5 566.7 L1254.0 566.7 L1255.5 566.7 L1257.0 566.8 L1258.5 566.8 L1260.0 566.7 L1261.5 566.7 L1263.0 566.6 L1264.5 566.7 L1266.0 566.8 L1267.5 566.8 L1269.0 566.8 L1270.5 567.0 L1272.0 567.2 L1273.5 567.4 L1275.0 567.6 L1276.5 567.7 L1278.0 567.8 L1279.5 568.0 L1281.0 568.1 L1282.5 568.1 L1284.0 568.3 L1285.5 568.5 L1287.0 568.6 L1288.5 568.9 L1290.0 569.2 L1291.5 569.5 L1293.0 569.7 L1294.5 569.7 L1296.0 570.1 L1297.5 570.6 L1299.0 570.9 L1300.5 571.0 L1302.0 571.1 L1303.5 571.1 L1305.0 571.4 L1306.5 571.9 L1308.0 572.2 L1309.5 572.3 L1311.0 572.6 L1312.5 572.8 L1314.0 573.0 L1315.5 573.4 L1317.0 574.0 L1318.5 574.3 L1320.0 574.5 L1321.5 574.7 L1323.0 574.8 L1324.5 574.8 L1326.0 575.1 L1327.5 575.5 L1329.0 576.0 L1330.5 576.3 L1332.0 576.5 L1333.5 576.5 L1335.0 576.7 L1336.5 577.1 L1338.0 577.3 L1339.5 577.4 L1341.0 577.6 L1342.5 578.0 L1344.0 578.3 L1345.5 578.4 L1347.0 578.6 L1348.5 578.9 L1350.0 579.2 L1351.5 579.4 L1353.0 579.6 L1354.5 579.6 L1356.0 579.6 L1357.5 579.7 L1359.0 579.7 L1360.5 580.1 L1362.0 580.5 L1363.5 580.6 L1365.0 580.6 L1366.5 580.7 L1368.0 580.7 L1369.5 581.0 L1371.0 581.3 L1372.5 581.4 L1374.0 581.5 L1375.5 581.8 L1377.0 581.9 L1378.5 581.9 L1380.0 581.8 L1381.5 581.7 L1383.0 581.8 L1384.5 582.1 L1386.0 582.3 L1387.5 582.3 L1389.0 582.3 L1390.5 582.4 L1392.0 582.6 L1393.5 582.7 L1395.0 582.5 L1396.5 582.5 L1398.0 582.7 L1399.5 582.8 L1401.0 582.8 L1402.5 582.9 L1404.0 583.0 L1405.5 582.9 L1407.0 582.7 L1408.5 582.5 L1410.0 582.5 L1411.5 582.6 L1413.0 582.7 L1414.5 582.7 L1416.0 582.7 L1417.5 582.7 L1419.0 582.5 L1420.5 582.5 L1422.0 582.4 L1423.5 582.4 L1425.0 582.4 L1426.5 582.4 L1428.0 582.4 L1429.5 582.4 L1431.0 582.3 L1432.5 582.0 L1434.0 581.8 L1435.5 581.6 L1437.0 581.6 L1438.5 581.6 L1440.0 581.6 L1441.5 581.4 L1443.0 581.1 L1444.5 580.9 L1446.0 580.9 L1447.5 581.0 L1449.0 580.8 L1450.5 580.6 L1452.0 580.5 L1453.5 580.4 L1455.0 580.3 L1456.5 580.0 L1458.0 579.8 L1459.5 579.8 L1461.0 579.8 L1462.5 579.6 L1464.0 579.4 L1465.5 579.1 L1467.0 578.9 L1468.5 578.8 L1470.0 578.6 L1471.5 578.3 L1473.0 578.1 L1474.5 577.9 L1476.0 577.9 L1477.5 577.7 L1479.0 577.5 L1480.5 577.3 L1482.0 576.9 L1483.5 576.8 L1485.0 576.7 L1486.5 576.3 L1488.0 576.1 L1489.5 576.1 L1491.0 575.9 L1492.5 575.5 L1494.0 575.4 L1495.5 575.1 L1497.0 574.8 L1498.5 574.7 L1500.0 574.5 L1501.5 574.3 L1503.0 574.1 L1504.5 574.0 L1506.0 573.9 L1507.5 573.8 L1509.0 573.7 L1510.5 573.4 L1512.0 573.0 L1513.5 572.9 L1515.0 573.0 L1516.5 573.1 L1518.0 572.9 L1519.5 572.6 L1521.0 572.4 L1522.5 572.3 L1524.0 572.2 L1525.5 572.2 L1527.0 572.1 L1528.5 572.0 L1530.0 571.8 L1531.5 571.7 L1533.0 571.6 L1534.5 571.6 L1536.0 571.9 L1537.5 572.1 L1539.0 571.8 L1540.5 571.4 L1542.0 571.4 L1543.5 571.4 L1545.0 571.2 L1546.5 571.2 L1548.0 571.3 L1549.5 571.4 L1551.0 571.6 L1552.5 571.7 L1554.0 571.5 L1555.5 571.4 L1557.0 571.3 L1558.5 571.4 L1560.0 571.7 L1561.5 571.9 L1563.0 571.9 L1564.5 571.9 L1566.0 571.9 L1567.5 571.9 L1569.0 571.9 L1570.5 572.2 L1572.0 572.5 L1573.5 572.5 L1575.0 572.4 L1576.5 572.5 L1578.0 572.8 L1579.5 572.8 L1581.0 572.6 L1582.5 572.6 L1584.0 572.9 L1585.5 573.0 L1587.0 573.0 L1588.5 573.1 L1590.0 573.3 L1591.5 573.5 L1593.0 573.5 L1594.5 573.4 L1596.0 573.5 L1597.5 573.7 L1599.0 573.7 L1600.5 573.6 L1602.0 573.6 L1603.5 573.6 L1605.0 573.6 L1606.5 573.7 L1608.0 573.7 L1609.5 573.9 L1611.0 574.0 L1612.5 574.3 L1614.0 574.4 L1615.5 574.3 L1617.0 574.3 L1618.5 574.4 L1620.0 574.2 L1621.5 574.3 L1623.0 574.6 L1624.5 574.9 L1626.0 574.9 L1627.5 574.8 L1629.0 574.7 L1630.5 574.8 L1632.0 575.0 L1633.5 574.9 L1635.0 574.8 L1636.5 574.8 L1638.0 575.0 L1639.5 575.2 L1641.0 575.3 L1642.5 575.1 L1644.0 575.1 L1645.5 575.2 L1647.0 575.3 L1648.5 575.3 L1650.0 575.2 L1651.5 575.1 L1653.0 575.2 L1654.5 575.6 L1656.0 575.6 L1657.5 575.4 L1659.0 575.5 L1660.5 575.6 L1662.0 575.6 L1663.5 575.6 L1665.0 575.7 L1666.5 575.8 L1668.0 575.8 L1669.5 575.8 L1671.0 575.6 L1672.5 575.6 L1674.0 575.6 L1675.5 575.4 L1677.0 575.5 L1678.5 575.6 L1680.0 575.5 L1681.5 575.6 L1683.0 575.7 L1684.5 575.6 L1686.0 575.6 L1687.5 575.7 L1689.0 575.6 L1690.5 575.4 L1692.0 575.3 L1693.5 575.4 L1695.0 575.6 L1696.5 575.4 L1698.0 575.1 L1699.5 575.0 L1701.0 575.0 L1702.5 575.0 L1704.0 575.1 L1705.5 575.1 L1707.0 574.8 L1708.5 574.8 L1710.0 574.8 L1711.5 574.6 L1713.0 574.5 L1714.5 574.4 L1716.0 574.4 L1717.5 574.4 L1719.0 574.2 L1720.5 574.2 L1722.0 574.2 L1723.5 574.2 L1725.0 574.1 L1726.5 574.0 L1728.0 573.9 L1729.5 573.8 L1731.0 573.6 L1732.5 573.4 L1734.0 573.4 L1735.5 573.5 L1737.0 573.4 L1738.5 573.0 L1740.0 572.9 L1741.5 573.0 L1743.0 572.7 L1744.5 572.8 L1746.0 573.0 L1747.5 572.8 L1749.0 572.6 L1750.5 572.6 L1752.0 572.6 L1753.5 572.5 L1755.0 572.3 L1756.5 572.1 L1758.0 571.9 L1759.5 571.9 L1761.0 572.0 L1762.5 572.0 L1764.0 572.0 L1765.5 571.6 L1767.0 571.3 L1768.5 571.4 L1770.0 571.6 L1771.5 571.5 L1773.0 571.4 L1774.5 571.4 L1776.0 571.4 L1777.5 571.3 L1779.0 571.2 L1780.5 571.1 L1782.0 571.0 L1783.5 571.0 L1785.0 570.7 L1786.5 570.7 L1788.0 570.9 L1789.5 570.9 L1791.0 570.9 L1792.5 570.8 L1794.0 570.8 L1795.5 570.9 L1797.0 570.7 L1798.5 570.5 L1800.0 570.4 L1801.5 570.4 L1803.0 570.6 L1804.5 570.6 L1806.0 570.4 L1807.5 570.3 L1809.0 570.3 L1810.5 570.1 L1812.0 570.1 L1813.5 570.2 L1815.0 570.1 L1816.5 570.1 L1818.0 570.1 L1819.5 570.1 L1821.0 570.3 L1822.5 570.4 L1824.0 570.3 L1825.5 570.2 L1827.0 570.2 L1828.5 570.2 L1830.0 570.3 L1831.5 570.3 L1833.0 570.1 L1834.5 570.0 L1836.0 569.7 L1837.5 569.4 L1839.0 569.5 L1840.5 569.8 L1842.0 569.9 L1843.5 569.9 L1845.0 570.0 L1846.5 570.0 L1848.0 569.9 L1849.5 570.0 L1851.0 570.1 L1852.5 569.9 L1854.0 569.8 L1855.5 569.9 L1857.0 569.8 L1858.5 569.7 L1860.0 569.7 L1861.5 569.7 L1863.0 569.9 L1864.5 569.9 L1866.0 569.9 L1867.5 569.8 L1869.0 569.6 L1870.5 569.7 L1872.0 569.7 L1873.5 569.8 L1875.0 570.0 L1876.5 569.8 L1878.0 569.6 L1879.5 569.8 L1881.0 569.8 L1882.5 569.7 L1884.0 569.6 L1885.5 569.7 L1887.0 569.8 L1888.5 569.8 L1890.0 569.7 L1891.5 569.7 L1893.0 569.8 L1894.5 569.6 L1896.0 569.2 L1897.5 569.3 L1899.0 569.5 L1900.5 569.5 L1902.0 569.7 L1903.5 569.8 L1905.0 569.7 L1906.5 569.6 L1908.0 569.7 L1909.5 569.8 L1911.0 569.6 L1912.5 569.7 L1914.0 569.8 L1915.5 569.6 L1917.0 569.4 L1918.5 569.5 L1920.0 569.6 L1921.5 569.6 L1923.0 569.7 L1924.5 569.7 L1926.0 569.6 L1927.5 569.7 L1929.0 569.7 L1930.5 569.6 L1932.0 569.6 L1933.5 569.6 L1935.0 569.5 L1936.5 569.5 L1938.0 569.5 L1939.5 569.4 L1941.0 569.4 L1942.5 569.6 L1944.0 569.6 L1945.5 569.5 L1947.0 569.5 L1948.5 569.5 L1950.0 569.5 L1951.5 569.5 L1953.0 569.5 L1954.5 569.5 L1956.0 569.5 L1957.5 569.4 L1959.0 569.2 L1960.5 569.3 L1962.0 569.5 L1963.5 569.4 L1965.0 569.3 L1966.5 569.3 L1968.0 569.3 L1969.5 569.2 L1971.0 569.1 L1972.5 569.1 L1974.0 569.3 L1975.5 569.4 L1977.0 569.4 L1978.5 569.3 L1980.0 569.4 L1981.5 569.1 L1983.0 568.8 L1984.5 568.9 L1986.0 569.2 L1987.5 569.2 L1989.0 569.0 L1990.5 568.9 L1992.0 569.0 L1993.5 569.2 L1995.0 569.2 L1996.5 569.2 L1998.0 568.9 L1999.5 568.7 L2001.0 568.9 L2002.5 568.9 L2004.0 568.9 L2005.5 569.0 L2007.0 568.9 L2008.5 568.9 L2010.0 568.8 L2011.5 568.7 L2013.0 568.7 L2014.5 568.7 L2016.0 568.8 L2017.5 568.8 L2019.0 568.6 L2020.5 568.6 L2022.0 568.5 L2023.5 568.5 L2025.0 568.4 L2026.5 568.4 L2028.0 568.3 L2029.5 568.1 L2031.0 568.1 L2032.5 568.1 L2034.0 568.0 L2035.5 567.9 L2037.0 567.9 L2038.5 567.9 L2040.0 567.8 L2041.5 567.9 L2043.0 568.0 L2044.5 567.7 L2046.0 567.5 L2047.5 567.5 L2049.0 567.6 L2050.0 567.5" fill="none" stroke="#00F8FF" stroke-width="5.2" stroke-linejoin="round" stroke-linecap="butt"/>
<path d="M177.0 839.6 L178.5 839.2 L180.0 838.8 L181.5 838.5 L183.0 838.5 L184.5 838.7 L186.0 839.1 L187.5 839.7 L189.0 840.4 L190.5 841.2 L192.0 842.2 L193.5 843.3 L195.0 844.4 L196.5 845.5 L198.0 846.7 L199.5 847.9 L201.0 849.1 L202.5 850.2 L204.0 851.3 L205.5 852.3 L207.0 853.3 L208.5 854.2 L210.0 855.1 L211.5 855.9 L213.0 856.7 L214.5 857.4 L216.0 858.0 L217.5 858.6 L219.0 859.2 L220.5 859.6 L222.0 860.0 L223.5 860.4 L225.0 860.6 L226.5 860.8 L228.0 861.0 L229.5 861.0 L231.0 861.0 L232.5 860.9 L234.0 860.7 L235.5 860.4 L237.0 859.9 L238.5 859.3 L240.0 858.5 L241.5 857.6 L243.0 856.4 L244.5 855.0 L246.0 853.5 L247.5 851.8 L249.0 849.8 L250.5 847.8 L252.0 845.5 L253.5 843.1 L255.0 840.6 L256.5 837.9 L258.0 835.1 L259.5 832.2 L261.0 829.3 L262.5 826.2 L264.0 823.1 L265.5 819.9 L267.0 816.7 L268.5 813.5 L270.0 810.3 L271.5 807.1 L273.0 804.0 L274.5 800.8 L276.0 797.8 L277.5 794.8 L279.0 791.9 L280.5 789.1 L282.0 786.4 L283.5 783.9 L285.0 781.5 L286.5 779.3 L288.0 777.1 L289.5 775.2 L291.0 773.3 L292.5 771.5 L294.0 769.9 L295.5 768.3 L297.0 766.8 L298.5 765.4 L300.0 764.1 L301.5 762.8 L303.0 761.6 L304.5 760.4 L306.0 759.2 L307.5 758.1 L309.0 757.0 L310.5 755.9 L312.0 754.9 L313.5 753.8 L315.0 752.8 L316.5 751.8 L318.0 750.9 L319.5 749.9 L321.0 749.0 L322.5 748.0 L324.0 747.1 L325.5 746.2 L327.0 745.2 L328.5 744.3 L330.0 743.4 L331.5 742.5 L333.0 741.6 L334.5 740.6 L336.0 739.7 L337.5 738.8 L339.0 737.8 L340.5 736.9 L342.0 735.9 L343.5 734.9 L345.0 733.9 L346.5 732.9 L348.0 731.8 L349.5 730.7 L351.0 729.7 L352.5 728.5 L354.0 727.4 L355.5 726.2 L357.0 725.0 L358.5 723.8 L360.0 722.5 L361.5 721.2 L363.0 719.9 L364.5 718.5 L366.0 717.2 L367.5 715.8 L369.0 714.4 L370.5 712.9 L372.0 711.5 L373.5 710.0 L375.0 708.5 L376.5 707.0 L378.0 705.5 L379.5 704.0 L381.0 702.5 L382.5 701.0 L384.0 699.4 L385.5 697.9 L387.0 696.4 L388.5 694.8 L390.0 693.3 L391.5 691.8 L393.0 690.2 L394.5 688.7 L396.0 687.2 L397.5 685.7 L399.0 684.2 L400.5 682.7 L402.0 681.3 L403.5 679.8 L405.0 678.4 L406.5 677.0 L408.0 675.6 L409.5 674.2 L411.0 672.9 L412.5 671.6 L414.0 670.3 L415.5 669.0 L417.0 667.8 L418.5 666.6 L420.0 665.4 L421.5 664.3 L423.0 663.2 L424.5 662.1 L426.0 661.1 L427.5 660.1 L429.0 659.2 L430.5 658.3 L432.0 657.4 L433.5 656.6 L435.0 655.9 L436.5 655.2 L438.0 654.5 L439.5 654.0 L441.0 653.4 L442.5 652.9 L444.0 652.5 L445.5 652.2 L447.0 651.9 L448.5 651.6 L450.0 651.5 L451.5 651.4 L453.0 651.4 L454.5 651.4 L456.0 651.6 L457.5 651.9 L459.0 652.4 L460.5 652.9 L462.0 653.6 L463.5 654.5 L465.0 655.5 L466.5 656.7 L468.0 658.0 L469.5 659.6 L471.0 661.4 L472.5 663.4 L474.0 665.6 L475.5 668.1 L477.0 670.8 L478.5 673.7 L480.0 676.9 L481.5 680.4 L483.0 684.2 L484.5 688.1 L486.0 692.3 L487.5 696.7 L489.0 701.1 L490.5 705.8 L492.0 710.5 L493.5 715.3 L495.0 720.1 L496.5 724.9 L498.0 729.7 L499.5 734.4 L501.0 739.1 L502.5 743.7 L504.0 748.2 L505.5 752.6 L507.0 757.0 L508.5 761.2 L510.0 765.4 L511.5 769.4 L513.0 773.5 L514.5 777.4 L516.0 781.3 L517.5 785.1 L519.0 788.9 L520.5 792.7 L522.0 796.4 L523.5 800.1 L525.0 803.7 L526.5 807.3 L528.0 810.9 L529.5 814.4 L531.0 817.9 L532.5 821.3 L534.0 824.7 L535.5 828.1 L537.0 831.4 L538.5 834.7 L540.0 837.9 L541.5 841.1 L543.0 844.3 L544.5 847.4 L546.0 850.4 L547.5 853.5 L549.0 856.5 L550.5 859.4 L552.0 862.4 L553.5 865.3 L555.0 868.3 L556.5 871.2 L558.0 874.1 L559.5 877.0 L561.0 880.0 L562.5 883.0 L564.0 885.9 L565.5 888.9 L567.0 891.9 L568.5 894.9 L570.0 897.8 L571.5 900.7 L573.0 903.5 L574.5 906.3 L576.0 908.9 L577.5 911.5 L579.0 913.9 L580.5 916.2 L582.0 918.3 L583.5 920.3 L585.0 922.1 L586.5 923.6 L588.0 925.1 L589.5 926.3 L591.0 927.4 L592.5 928.2 L594.0 929.0 L595.5 929.5 L597.0 929.9 L598.5 930.1 L600.0 930.2 L601.5 930.2 L603.0 929.9 L604.5 929.6 L606.0 929.1 L607.5 928.5 L609.0 927.7 L610.5 926.8 L612.0 925.8 L613.5 924.7 L615.0 923.4 L616.5 922.1 L618.0 920.6 L619.5 919.0 L621.0 917.3 L622.5 915.6 L624.0 913.7 L625.5 911.8 L627.0 909.7 L628.5 907.6 L630.0 905.4 L631.5 903.1 L633.0 900.8 L634.5 898.4 L636.0 896.0 L637.5 893.5 L639.0 891.0 L640.5 888.5 L642.0 886.0 L643.5 883.5 L645.0 881.0 L646.5 878.5 L648.0 876.1 L649.5 873.7 L651.0 871.4 L652.5 869.1 L654.0 866.9 L655.5 864.8 L657.0 862.8 L658.5 860.9 L660.0 859.1 L661.5 857.5 L663.0 855.9 L664.5 854.5 L666.0 853.2 L667.5 852.0 L669.0 850.9 L670.5 850.0 L672.0 849.2 L673.5 848.5 L675.0 848.0 L676.5 847.6 L678.0 847.4 L679.5 847.3 L681.0 847.4 L682.5 847.6 L684.0 848.0 L685.5 848.6 L687.0 849.3 L688.5 850.2 L690.0 851.2 L691.5 852.5 L693.0 853.9 L694.5 855.4 L696.0 857.2 L697.5 859.1 L699.0 861.1 L700.5 863.3 L702.0 865.6 L703.5 868.0 L705.0 870.5 L706.5 873.1 L708.0 875.8 L709.5 878.6 L711.0 881.4 L712.5 884.2 L714.0 887.1 L715.5 890.0 L717.0 892.9 L718.5 895.8 L720.0 898.7 L721.5 901.6 L723.0 904.4 L724.5 907.2 L726.0 909.9 L727.5 912.6 L729.0 915.2 L730.5 917.7 L732.0 920.1 L733.5 922.5 L735.0 924.7 L736.5 926.9 L738.0 929.0 L739.5 931.1 L741.0 933.1 L742.5 935.0 L744.0 936.8 L745.5 938.6 L747.0 940.3 L748.5 942.0 L750.0 943.6 L751.5 945.1 L753.0 946.6 L754.5 948.0 L756.0 949.3 L757.5 950.6 L759.0 951.9 L760.5 953.0 L762.0 954.2 L763.5 955.3 L765.0 956.3 L766.5 957.3 L768.0 958.2 L769.5 959.1 L771.0 959.9 L772.5 960.7 L774.0 961.5 L775.5 962.2 L777.0 962.9 L778.5 963.5 L780.0 964.1 L781.5 964.6 L783.0 965.0 L784.5 965.4 L786.0 965.7 L787.5 966.0 L789.0 966.1 L790.5 966.2 L792.0 966.1 L793.5 966.0 L795.0 965.7 L796.5 965.4 L798.0 964.9 L799.5 964.3 L801.0 963.5 L802.5 962.6 L804.0 961.6 L805.5 960.5 L807.0 959.1 L808.5 957.7 L810.0 956.1 L811.5 954.3 L813.0 952.4 L814.5 950.4 L816.0 948.3 L817.5 946.0 L819.0 943.6 L820.5 941.1 L822.0 938.5 L823.5 935.7 L825.0 932.9 L826.5 930.0 L828.0 927.0 L829.5 923.9 L831.0 920.7 L832.5 917.5 L834.0 914.2 L835.5 910.9 L837.0 907.6 L838.5 904.2 L840.0 900.9 L841.5 897.6 L843.0 894.3 L844.5 891.0 L846.0 887.7 L847.5 884.5 L849.0 881.2 L850.5 878.0 L852.0 874.8 L853.5 871.6 L855.0 868.4 L856.5 865.3 L858.0 862.2 L859.5 859.1 L861.0 856.2 L862.5 853.3 L864.0 850.6 L865.5 848.0 L867.0 845.6 L868.5 843.3 L870.0 841.2 L871.5 839.3 L873.0 837.6 L874.5 836.0 L876.0 834.5 L877.5 833.2 L879.0 832.0 L880.5 830.8 L882.0 829.8 L883.5 828.8 L885.0 827.9 L886.5 827.1 L888.0 826.3 L889.5 825.5 L891.0 824.8 L892.5 824.1 L894.0 823.4 L895.5 822.7 L897.0 822.1 L898.5 821.5 L900.0 820.9 L901.5 820.4 L903.0 819.8 L904.5 819.3 L906.0 818.9 L907.5 818.4 L909.0 818.0 L910.5 817.6 L912.0 817.2 L913.5 816.9 L915.0 816.6 L916.5 816.3 L918.0 816.0 L919.5 815.8 L921.0 815.5 L922.5 815.3 L924.0 815.2 L925.5 815.0 L927.0 814.8 L928.5 814.7 L930.0 814.6 L931.5 814.4 L933.0 814.3 L934.5 814.2 L936.0 814.1 L937.5 814.0 L939.0 813.9 L940.5 813.8 L942.0 813.7 L943.5 813.5 L945.0 813.4 L946.5 813.3 L948.0 813.1 L949.5 813.0 L951.0 812.8 L952.5 812.6 L954.0 812.4 L955.5 812.2 L957.0 811.9 L958.5 811.6 L960.0 811.3 L961.5 811.0 L963.0 810.7 L964.5 810.4 L966.0 810.0 L967.5 809.6 L969.0 809.3 L970.5 808.9 L972.0 808.4 L973.5 808.0 L975.0 807.5 L976.5 807.1 L978.0 806.7 L979.5 806.4 L981.0 806.0 L982.5 805.6 L984.0 805.2 L985.5 804.8 L987.0 804.5 L988.5 804.1 L990.0 803.8 L991.5 803.4 L993.0 803.0 L994.5 802.8 L996.0 802.8 L997.5 802.7 L999.0 802.4 L1000.5 802.0 L1002.0 801.8 L1003.5 801.9 L1005.0 801.8 L1006.5 801.6 L1008.0 801.7 L1009.5 801.9 L1011.0 801.8 L1012.5 801.8 L1014.0 801.9 L1015.5 802.1 L1017.0 802.5 L1018.5 802.6 L1020.0 802.8 L1021.5 803.2 L1023.0 803.6 L1024.5 803.9 L1026.0 804.3 L1027.5 804.6 L1029.0 805.0 L1030.5 805.5 L1032.0 805.9 L1033.5 806.5 L1035.0 807.2 L1036.5 807.7 L1038.0 808.3 L1039.5 809.1 L1041.0 809.8 L1042.5 810.5 L1044.0 811.3 L1045.5 812.2 L1047.0 813.2 L1048.5 814.0 L1050.0 814.9 L1051.5 815.9 L1053.0 816.9 L1054.5 818.0 L1056.0 819.0 L1057.5 820.0 L1059.0 821.0 L1060.5 822.2 L1062.0 823.3 L1063.5 824.4 L1065.0 825.4 L1066.5 826.6 L1068.0 827.9 L1069.5 829.1 L1071.0 830.2 L1072.5 831.3 L1074.0 832.4 L1075.5 833.6 L1077.0 834.8 L1078.5 836.0 L1080.0 837.1 L1081.5 838.2 L1083.0 839.5 L1084.5 840.7 L1086.0 841.8 L1087.5 842.9 L1089.0 844.0 L1090.5 845.1 L1092.0 846.3 L1093.5 847.3 L1095.0 848.3 L1096.5 849.5 L1098.0 850.5 L1099.5 851.5 L1101.0 852.5 L1102.5 853.5 L1104.0 854.4 L1105.5 855.2 L1107.0 856.1 L1108.5 857.0 L1110.0 857.8 L1111.5 858.6 L1113.0 859.3 L1114.5 860.1 L1116.0 860.9 L1117.5 861.5 L1119.0 862.0 L1120.5 862.6 L1122.0 863.1 L1123.5 863.5 L1125.0 863.9 L1126.5 864.2 L1128.0 864.7 L1129.5 865.1 L1131.0 865.2 L1132.5 865.3 L1134.0 865.5 L1135.5 865.7 L1137.0 865.8 L1138.5 865.6 L1140.0 865.6 L1141.5 865.8 L1143.0 865.8 L1144.5 865.8 L1146.0 866.0 L1147.5 866.0 L1149.0 865.9 L1150.5 865.5 L1152.0 865.0 L1153.5 864.7 L1155.0 864.5 L1156.5 864.2 L1158.0 863.7 L1159.5 863.5 L1161.0 863.2 L1162.5 862.8 L1164.0 862.3 L1165.5 861.8 L1167.0 861.2 L1168.5 860.6 L1170.0 860.0 L1171.5 859.6 L1173.0 859.1 L1174.5 858.4 L1176.0 857.7 L1177.5 857.0 L1179.0 856.4 L1180.5 855.7 L1182.0 855.0 L1183.5 854.2 L1185.0 853.5 L1186.5 852.9 L1188.0 852.2 L1189.5 851.5 L1191.0 850.8 L1192.5 850.0 L1194.0 849.4 L1195.5 848.7 L1197.0 848.0 L1198.5 847.4 L1200.0 846.7 L1201.5 846.0 L1203.0 845.5 L1204.5 845.0 L1206.0 844.6 L1207.5 844.1 L1209.0 843.5 L1210.5 842.9 L1212.0 842.4 L1213.5 842.0 L1215.0 841.6 L1216.5 841.0 L1218.0 840.7 L1219.5 840.6 L1221.0 840.4 L1222.5 840.0 L1224.0 839.8 L1225.5 839.7 L1227.0 839.3 L1228.5 838.9 L1230.0 838.9 L1231.5 838.7 L1233.0 838.4 L1234.5 838.3 L1236.0 838.1 L1237.5 837.9 L1239.0 837.7 L1240.5 837.5 L1242.0 837.5 L1243.5 837.4 L1245.0 837.1 L1246.5 837.1 L1248.0 837.2 L1249.5 837.2 L1251.0 837.2 L1252.5 837.2 L1254.0 837.1 L1255.5 837.0 L1257.0 837.3 L1258.5 837.5 L1260.0 837.6 L1261.5 837.7 L1263.0 837.7 L1264.5 837.8 L1266.0 838.0 L1267.5 838.0 L1269.0 838.3 L1270.5 838.5 L1272.0 838.6 L1273.5 838.8 L1275.0 838.8 L1276.5 838.8 L1278.0 839.2 L1279.5 839.4 L1281.0 839.6 L1282.5 839.9 L1284.0 840.2 L1285.5 840.4 L1287.0 840.5 L1288.5 840.9 L1290.0 841.2 L1291.5 841.3 L1293.0 841.6 L1294.5 842.0 L1296.0 842.3 L1297.5 842.8 L1299.0 843.3 L1300.5 843.8 L1302.0 844.1 L1303.5 844.5 L1305.0 844.9 L1306.5 845.2 L1308.0 845.5 L1309.5 845.9 L1311.0 846.3 L1312.5 846.7 L1314.0 847.1 L1315.5 847.5 L1317.0 847.9 L1318.5 848.4 L1320.0 849.0 L1321.5 849.5 L1323.0 850.0 L1324.5 850.5 L1326.0 851.0 L1327.5 851.4 L1329.0 851.8 L1330.5 852.2 L1332.0 852.6 L1333.5 853.3 L1335.0 854.0 L1336.5 854.5 L1338.0 855.2 L1339.5 855.9 L1341.0 856.4 L1342.5 857.1 L1344.0 857.7 L1345.5 858.3 L1347.0 858.9 L1348.5 859.3 L1350.0 859.7 L1351.5 860.3 L1353.0 860.8 L1354.5 861.2 L1356.0 861.9 L1357.5 862.7 L1359.0 863.2 L1360.5 863.6 L1362.0 864.2 L1363.5 864.7 L1365.0 865.3 L1366.5 865.7 L1368.0 866.1 L1369.5 866.6 L1371.0 867.2 L1372.5 868.0 L1374.0 868.6 L1375.5 869.1 L1377.0 869.5 L1378.5 869.8 L1380.0 870.0 L1381.5 870.4 L1383.0 870.7 L1384.5 871.0 L1386.0 871.6 L1387.5 872.2 L1389.0 872.5 L1390.5 872.7 L1392.0 872.8 L1393.5 872.9 L1395.0 873.2 L1396.5 873.6 L1398.0 874.0 L1399.5 874.2 L1401.0 874.1 L1402.5 874.1 L1404.0 874.2 L1405.5 874.2 L1407.0 874.1 L1408.5 874.3 L1410.0 874.4 L1411.5 874.3 L1413.0 874.0 L1414.5 873.8 L1416.0 873.8 L1417.5 873.7 L1419.0 873.5 L1420.5 873.3 L1422.0 873.1 L1423.5 872.8 L1425.0 872.4 L1426.5 872.2 L1428.0 872.2 L1429.5 871.9 L1431.0 871.6 L1432.5 871.3 L1434.0 870.8 L1435.5 870.4 L1437.0 870.0 L1438.5 869.6 L1440.0 869.2 L1441.5 868.7 L1443.0 868.2 L1444.5 867.8 L1446.0 867.3 L1447.5 866.6 L1449.0 866.1 L1450.5 865.7 L1452.0 865.1 L1453.5 864.6 L1455.0 864.2 L1456.5 863.7 L1458.0 863.1 L1459.5 862.5 L1461.0 862.0 L1462.5 861.4 L1464.0 860.9 L1465.5 860.4 L1467.0 860.0 L1468.5 859.5 L1470.0 859.0 L1471.5 858.6 L1473.0 858.2 L1474.5 857.6 L1476.0 856.8 L1477.5 856.3 L1479.0 855.9 L1480.5 855.4 L1482.0 854.9 L1483.5 854.5 L1485.0 854.2 L1486.5 853.7 L1488.0 853.1 L1489.5 852.7 L1491.0 852.3 L1492.5 852.0 L1494.0 851.7 L1495.5 851.0 L1497.0 850.4 L1498.5 850.2 L1500.0 850.2 L1501.5 849.9 L1503.0 849.2 L1504.5 848.7 L1506.0 848.5 L1507.5 848.1 L1509.0 847.6 L1510.5 847.5 L1512.0 847.5 L1513.5 847.4 L1515.0 847.0 L1516.5 846.7 L1518.0 846.6 L1519.5 846.2 L1521.0 845.8 L1522.5 845.7 L1524.0 845.7 L1525.5 845.6 L1527.0 845.4 L1528.5 845.2 L1530.0 845.0 L1531.5 844.7 L1533.0 844.6 L1534.5 844.7 L1536.0 844.7 L1537.5 844.5 L1539.0 844.4 L1540.5 844.5 L1542.0 844.5 L1543.5 844.4 L1545.0 844.2 L1546.5 844.0 L1548.0 843.8 L1549.5 843.9 L1551.0 844.1 L1552.5 844.1 L1554.0 844.2 L1555.5 844.3 L1557.0 844.4 L1558.5 844.4 L1560.0 844.4 L1561.5 844.5 L1563.0 844.5 L1564.5 844.5 L1566.0 844.5 L1567.5 844.7 L1569.0 844.8 L1570.5 844.9 L1572.0 845.1 L1573.5 845.3 L1575.0 845.3 L1576.5 845.3 L1578.0 845.6 L1579.5 845.7 L1581.0 845.8 L1582.5 846.0 L1584.0 846.3 L1585.5 846.4 L1587.0 846.4 L1588.5 846.3 L1590.0 846.6 L1591.5 847.0 L1593.0 847.4 L1594.5 847.4 L1596.0 847.5 L1597.5 847.8 L1599.0 847.9 L1600.5 848.0 L1602.0 848.1 L1603.5 848.3 L1605.0 848.6 L1606.5 848.9 L1608.0 848.9 L1609.5 849.0 L1611.0 849.4 L1612.5 849.7 L1614.0 849.7 L1615.5 849.8 L1617.0 850.0 L1618.5 850.0 L1620.0 850.1 L1621.5 850.5 L1623.0 850.8 L1624.5 851.0 L1626.0 851.2 L1627.5 851.5 L1629.0 851.6 L1630.5 851.7 L1632.0 852.0 L1633.5 852.3 L1635.0 852.6 L1636.5 852.8 L1638.0 852.7 L1639.5 852.4 L1641.0 852.7 L1642.5 853.1 L1644.0 853.3 L1645.5 853.4 L1647.0 853.8 L1648.5 853.9 L1650.0 853.9 L1651.5 854.0 L1653.0 854.1 L1654.5 854.2 L1656.0 854.4 L1657.5 854.4 L1659.0 854.3 L1660.5 854.5 L1662.0 854.6 L1663.5 854.8 L1665.0 854.9 L1666.5 855.0 L1668.0 855.3 L1669.5 855.2 L1671.0 855.0 L1672.5 855.2 L1674.0 855.3 L1675.5 855.1 L1677.0 855.0 L1678.5 855.2 L1680.0 855.3 L1681.5 855.0 L1683.0 855.0 L1684.5 855.0 L1686.0 854.9 L1687.5 854.7 L1689.0 854.7 L1690.5 854.8 L1692.0 854.6 L1693.5 854.4 L1695.0 854.3 L1696.5 854.1 L1698.0 854.0 L1699.5 854.0 L1701.0 853.9 L1702.5 853.7 L1704.0 853.5 L1705.5 853.3 L1707.0 853.1 L1708.5 853.0 L1710.0 852.8 L1711.5 852.4 L1713.0 852.2 L1714.5 852.0 L1716.0 851.6 L1717.5 851.3 L1719.0 851.0 L1720.5 850.6 L1722.0 850.4 L1723.5 850.2 L1725.0 850.0 L1726.5 849.9 L1728.0 849.6 L1729.5 849.3 L1731.0 849.0 L1732.5 848.8 L1734.0 848.4 L1735.5 848.1 L1737.0 847.9 L1738.5 847.8 L1740.0 847.6 L1741.5 847.3 L1743.0 846.9 L1744.5 846.4 L1746.0 846.1 L1747.5 846.0 L1749.0 845.8 L1750.5 845.5 L1752.0 845.3 L1753.5 845.1 L1755.0 844.8 L1756.5 844.6 L1758.0 844.2 L1759.5 843.7 L1761.0 843.5 L1762.5 843.4 L1764.0 843.2 L1765.5 842.9 L1767.0 842.6 L1768.5 842.4 L1770.0 842.3 L1771.5 842.3 L1773.0 842.2 L1774.5 842.0 L1776.0 841.8 L1777.5 841.6 L1779.0 841.4 L1780.5 841.4 L1782.0 841.1 L1783.5 840.7 L1785.0 840.7 L1786.5 840.9 L1788.0 840.8 L1789.5 840.5 L1791.0 840.6 L1792.5 840.6 L1794.0 840.3 L1795.5 840.0 L1797.0 840.0 L1798.5 840.1 L1800.0 840.2 L1801.5 840.2 L1803.0 840.4 L1804.5 840.2 L1806.0 840.0 L1807.5 839.9 L1809.0 839.9 L1810.5 840.2 L1812.0 840.3 L1813.5 840.2 L1815.0 840.2 L1816.5 840.1 L1818.0 840.3 L1819.5 840.4 L1821.0 840.2 L1822.5 840.3 L1824.0 840.3 L1825.5 839.9 L1827.0 839.8 L1828.5 840.0 L1830.0 840.2 L1831.5 840.2 L1833.0 840.2 L1834.5 840.3 L1836.0 840.3 L1837.5 840.2 L1839.0 840.2 L1840.5 840.2 L1842.0 840.2 L1843.5 840.3 L1845.0 840.1 L1846.5 840.0 L1848.0 840.1 L1849.5 840.0 L1851.0 839.7 L1852.5 839.7 L1854.0 839.6 L1855.5 839.7 L1857.0 839.8 L1858.5 839.7 L1860.0 839.6 L1861.5 839.7 L1863.0 839.8 L1864.5 839.5 L1866.0 839.2 L1867.5 839.0 L1869.0 839.1 L1870.5 839.2 L1872.0 839.2 L1873.5 839.2 L1875.0 839.1 L1876.5 839.0 L1878.0 838.9 L1879.5 838.8 L1881.0 838.7 L1882.5 838.8 L1884.0 838.6 L1885.5 838.3 L1887.0 838.0 L1888.5 838.0 L1890.0 837.9 L1891.5 837.7 L1893.0 837.7 L1894.5 837.9 L1896.0 837.6 L1897.5 837.6 L1899.0 837.9 L1900.5 837.8 L1902.0 837.6 L1903.5 837.6 L1905.0 837.4 L1906.5 837.2 L1908.0 837.3 L1909.5 837.0 L1911.0 836.7 L1912.5 836.6 L1914.0 836.5 L1915.5 836.4 L1917.0 836.5 L1918.5 836.6 L1920.0 836.4 L1921.5 836.3 L1923.0 836.2 L1924.5 836.1 L1926.0 836.0 L1927.5 835.9 L1929.0 835.8 L1930.5 835.7 L1932.0 835.6 L1933.5 835.4 L1935.0 835.2 L1936.5 835.2 L1938.0 835.2 L1939.5 835.1 L1941.0 834.8 L1942.5 834.7 L1944.0 834.7 L1945.5 834.7 L1947.0 834.7 L1948.5 834.6 L1950.0 834.5 L1951.5 834.3 L1953.0 834.0 L1954.5 833.8 L1956.0 833.9 L1957.5 833.8 L1959.0 833.7 L1960.5 833.8 L1962.0 833.8 L1963.5 833.7 L1965.0 833.7 L1966.5 833.5 L1968.0 833.3 L1969.5 833.2 L1971.0 833.4 L1972.5 833.5 L1974.0 833.6 L1975.5 833.6 L1977.0 833.3 L1978.5 833.1 L1980.0 833.0 L1981.5 832.9 L1983.0 832.8 L1984.5 832.8 L1986.0 832.8 L1987.5 832.6 L1989.0 832.5 L1990.5 832.6 L1992.0 832.5 L1993.5 832.3 L1995.0 832.2 L1996.5 832.1 L1998.0 832.0 L1999.5 832.1 L2001.0 832.0 L2002.5 832.0 L2004.0 832.0 L2005.5 831.9 L2007.0 831.8 L2008.5 831.8 L2010.0 831.8 L2011.5 831.8 L2013.0 831.7 L2014.5 831.5 L2016.0 831.4 L2017.5 831.4 L2019.0 831.5 L2020.5 831.7 L2022.0 831.6 L2023.5 831.4 L2025.0 831.2 L2026.5 830.9 L2028.0 830.8 L2029.5 830.9 L2031.0 830.9 L2032.5 830.8 L2034.0 830.8 L2035.5 831.0 L2037.0 830.9 L2038.5 830.9 L2040.0 831.3 L2041.5 831.2 L2043.0 831.0 L2044.5 831.0 L2046.0 831.0 L2047.5 831.0 L2049.0 830.7 L2050.0 830.6" fill="none" stroke="#0A6EFF" stroke-width="3.3" stroke-linejoin="round" stroke-linecap="butt"/>
<path d="M177.0 1183.4 L178.5 1183.2 L180.0 1183.0 L181.5 1183.0 L183.0 1183.1 L184.5 1183.5 L186.0 1184.0 L187.5 1184.7 L189.0 1185.5 L190.5 1186.4 L192.0 1187.5 L193.5 1188.6 L195.0 1189.8 L196.5 1191.0 L198.0 1192.2 L199.5 1193.5 L201.0 1194.7 L202.5 1195.9 L204.0 1197.1 L205.5 1198.3 L207.0 1199.4 L208.5 1200.4 L210.0 1201.4 L211.5 1202.4 L213.0 1203.3 L214.5 1204.1 L216.0 1204.9 L217.5 1205.6 L219.0 1206.2 L220.5 1206.7 L222.0 1207.2 L223.5 1207.6 L225.0 1207.9 L226.5 1208.1 L228.0 1208.1 L229.5 1208.1 L231.0 1208.0 L232.5 1207.8 L234.0 1207.4 L235.5 1206.9 L237.0 1206.3 L238.5 1205.5 L240.0 1204.6 L241.5 1203.5 L243.0 1202.2 L244.5 1200.8 L246.0 1199.1 L247.5 1197.4 L249.0 1195.4 L250.5 1193.3 L252.0 1191.1 L253.5 1188.7 L255.0 1186.2 L256.5 1183.6 L258.0 1180.8 L259.5 1177.9 L261.0 1175.0 L262.5 1172.0 L264.0 1168.9 L265.5 1165.8 L267.0 1162.6 L268.5 1159.4 L270.0 1156.2 L271.5 1153.1 L273.0 1149.9 L274.5 1146.8 L276.0 1143.8 L277.5 1140.8 L279.0 1138.0 L280.5 1135.2 L282.0 1132.6 L283.5 1130.1 L285.0 1127.7 L286.5 1125.5 L288.0 1123.4 L289.5 1121.5 L291.0 1119.6 L292.5 1117.9 L294.0 1116.3 L295.5 1114.7 L297.0 1113.3 L298.5 1111.9 L300.0 1110.6 L301.5 1109.4 L303.0 1108.2 L304.5 1107.0 L306.0 1105.9 L307.5 1104.8 L309.0 1103.7 L310.5 1102.7 L312.0 1101.6 L313.5 1100.6 L315.0 1099.6 L316.5 1098.7 L318.0 1097.7 L319.5 1096.8 L321.0 1095.9 L322.5 1094.9 L324.0 1094.0 L325.5 1093.1 L327.0 1092.2 L328.5 1091.3 L330.0 1090.4 L331.5 1089.6 L333.0 1088.7 L334.5 1087.8 L336.0 1086.9 L337.5 1086.0 L339.0 1085.1 L340.5 1084.1 L342.0 1083.2 L343.5 1082.3 L345.0 1081.3 L346.5 1080.3 L348.0 1079.3 L349.5 1078.3 L351.0 1077.3 L352.5 1076.2 L354.0 1075.2 L355.5 1074.1 L357.0 1072.9 L358.5 1071.8 L360.0 1070.6 L361.5 1069.4 L363.0 1068.1 L364.5 1066.9 L366.0 1065.6 L367.5 1064.3 L369.0 1062.9 L370.5 1061.6 L372.0 1060.2 L373.5 1058.9 L375.0 1057.5 L376.5 1056.1 L378.0 1054.6 L379.5 1053.2 L381.0 1051.8 L382.5 1050.3 L384.0 1048.8 L385.5 1047.4 L387.0 1045.9 L388.5 1044.4 L390.0 1042.9 L391.5 1041.4 L393.0 1040.0 L394.5 1038.5 L396.0 1037.0 L397.5 1035.5 L399.0 1034.0 L400.5 1032.5 L402.0 1031.0 L403.5 1029.6 L405.0 1028.1 L406.5 1026.7 L408.0 1025.2 L409.5 1023.8 L411.0 1022.4 L412.5 1021.0 L414.0 1019.6 L415.5 1018.2 L417.0 1016.8 L418.5 1015.5 L420.0 1014.2 L421.5 1012.9 L423.0 1011.6 L424.5 1010.4 L426.0 1009.2 L427.5 1008.0 L429.0 1006.9 L430.5 1005.8 L432.0 1004.8 L433.5 1003.8 L435.0 1002.9 L436.5 1002.1 L438.0 1001.3 L439.5 1000.6 L441.0 1000.0 L442.5 999.5 L444.0 999.0 L445.5 998.6 L447.0 998.4 L448.5 998.2 L450.0 998.1 L451.5 998.1 L453.0 998.3 L454.5 998.5 L456.0 998.9 L457.5 999.4 L459.0 1000.0 L460.5 1000.7 L462.0 1001.6 L463.5 1002.7 L465.0 1003.9 L466.5 1005.2 L468.0 1006.8 L469.5 1008.4 L471.0 1010.3 L472.5 1012.3 L474.0 1014.6 L475.5 1017.0 L477.0 1019.6 L478.5 1022.4 L480.0 1025.4 L481.5 1028.6 L483.0 1032.0 L484.5 1035.6 L486.0 1039.4 L487.5 1043.3 L489.0 1047.3 L490.5 1051.5 L492.0 1055.8 L493.5 1060.1 L495.0 1064.6 L496.5 1069.1 L498.0 1073.6 L499.5 1078.2 L501.0 1082.8 L502.5 1087.4 L504.0 1092.0 L505.5 1096.6 L507.0 1101.1 L508.5 1105.7 L510.0 1110.2 L511.5 1114.6 L513.0 1119.0 L514.5 1123.4 L516.0 1127.7 L517.5 1132.0 L519.0 1136.2 L520.5 1140.3 L522.0 1144.4 L523.5 1148.3 L525.0 1152.2 L526.5 1156.1 L528.0 1159.8 L529.5 1163.5 L531.0 1167.1 L532.5 1170.7 L534.0 1174.2 L535.5 1177.7 L537.0 1181.1 L538.5 1184.5 L540.0 1187.8 L541.5 1191.1 L543.0 1194.3 L544.5 1197.5 L546.0 1200.7 L547.5 1203.8 L549.0 1206.9 L550.5 1210.0 L552.0 1213.0 L553.5 1216.0 L555.0 1219.0 L556.5 1222.0 L558.0 1224.9 L559.5 1227.8 L561.0 1230.6 L562.5 1233.5 L564.0 1236.3 L565.5 1239.0 L567.0 1241.8 L568.5 1244.4 L570.0 1247.1 L571.5 1249.6 L573.0 1252.1 L574.5 1254.6 L576.0 1256.9 L577.5 1259.1 L579.0 1261.3 L580.5 1263.3 L582.0 1265.3 L583.5 1267.1 L585.0 1268.7 L586.5 1270.3 L588.0 1271.7 L589.5 1273.0 L591.0 1274.1 L592.5 1275.1 L594.0 1275.9 L595.5 1276.6 L597.0 1277.2 L598.5 1277.6 L600.0 1277.8 L601.5 1277.9 L603.0 1277.9 L604.5 1277.7 L606.0 1277.3 L607.5 1276.8 L609.0 1276.1 L610.5 1275.2 L612.0 1274.2 L613.5 1273.0 L615.0 1271.6 L616.5 1270.2 L618.0 1268.5 L619.5 1266.8 L621.0 1264.9 L622.5 1263.0 L624.0 1260.9 L625.5 1258.8 L627.0 1256.6 L628.5 1254.4 L630.0 1252.1 L631.5 1249.7 L633.0 1247.4 L634.5 1245.0 L636.0 1242.6 L637.5 1240.2 L639.0 1237.8 L640.5 1235.4 L642.0 1233.0 L643.5 1230.6 L645.0 1228.3 L646.5 1225.9 L648.0 1223.6 L649.5 1221.4 L651.0 1219.2 L652.5 1217.0 L654.0 1214.9 L655.5 1212.8 L657.0 1210.8 L658.5 1208.9 L660.0 1207.1 L661.5 1205.3 L663.0 1203.7 L664.5 1202.1 L666.0 1200.6 L667.5 1199.3 L669.0 1198.0 L670.5 1196.9 L672.0 1196.0 L673.5 1195.1 L675.0 1194.4 L676.5 1193.9 L678.0 1193.5 L679.5 1193.3 L681.0 1193.3 L682.5 1193.5 L684.0 1193.8 L685.5 1194.4 L687.0 1195.2 L688.5 1196.2 L690.0 1197.4 L691.5 1198.9 L693.0 1200.5 L694.5 1202.3 L696.0 1204.3 L697.5 1206.4 L699.0 1208.6 L700.5 1211.0 L702.0 1213.4 L703.5 1215.9 L705.0 1218.5 L706.5 1221.1 L708.0 1223.7 L709.5 1226.4 L711.0 1229.0 L712.5 1231.6 L714.0 1234.3 L715.5 1236.9 L717.0 1239.6 L718.5 1242.2 L720.0 1244.9 L721.5 1247.5 L723.0 1250.1 L724.5 1252.8 L726.0 1255.4 L727.5 1258.0 L729.0 1260.6 L730.5 1263.2 L732.0 1265.7 L733.5 1268.2 L735.0 1270.6 L736.5 1273.0 L738.0 1275.3 L739.5 1277.6 L741.0 1279.8 L742.5 1281.9 L744.0 1283.9 L745.5 1285.9 L747.0 1287.7 L748.5 1289.5 L750.0 1291.2 L751.5 1292.8 L753.0 1294.3 L754.5 1295.7 L756.0 1297.0 L757.5 1298.3 L759.0 1299.5 L760.5 1300.7 L762.0 1301.8 L763.5 1302.9 L765.0 1303.9 L766.5 1304.9 L768.0 1305.9 L769.5 1306.9 L771.0 1307.8 L772.5 1308.6 L774.0 1309.5 L775.5 1310.2 L777.0 1311.0 L778.5 1311.6 L780.0 1312.2 L781.5 1312.7 L783.0 1313.2 L784.5 1313.6 L786.0 1313.9 L787.5 1314.0 L789.0 1314.1 L790.5 1314.1 L792.0 1314.0 L793.5 1313.8 L795.0 1313.5 L796.5 1313.0 L798.0 1312.4 L799.5 1311.7 L801.0 1310.9 L802.5 1309.9 L804.0 1308.9 L805.5 1307.6 L807.0 1306.3 L808.5 1304.8 L810.0 1303.2 L811.5 1301.5 L813.0 1299.7 L814.5 1297.7 L816.0 1295.6 L817.5 1293.4 L819.0 1291.1 L820.5 1288.6 L822.0 1286.0 L823.5 1283.3 L825.0 1280.5 L826.5 1277.6 L828.0 1274.6 L829.5 1271.5 L831.0 1268.3 L832.5 1265.0 L834.0 1261.7 L835.5 1258.3 L837.0 1254.9 L838.5 1251.5 L840.0 1248.1 L841.5 1244.6 L843.0 1241.2 L844.5 1237.7 L846.0 1234.3 L847.5 1230.9 L849.0 1227.6 L850.5 1224.3 L852.0 1221.0 L853.5 1217.9 L855.0 1214.7 L856.5 1211.7 L858.0 1208.7 L859.5 1205.9 L861.0 1203.1 L862.5 1200.5 L864.0 1198.0 L865.5 1195.6 L867.0 1193.3 L868.5 1191.2 L870.0 1189.2 L871.5 1187.3 L873.0 1185.6 L874.5 1184.0 L876.0 1182.5 L877.5 1181.1 L879.0 1179.8 L880.5 1178.6 L882.0 1177.5 L883.5 1176.4 L885.0 1175.5 L886.5 1174.5 L888.0 1173.7 L889.5 1172.8 L891.0 1172.0 L892.5 1171.3 L894.0 1170.6 L895.5 1169.9 L897.0 1169.3 L898.5 1168.7 L900.0 1168.1 L901.5 1167.6 L903.0 1167.1 L904.5 1166.6 L906.0 1166.2 L907.5 1165.8 L909.0 1165.4 L910.5 1165.0 L912.0 1164.7 L913.5 1164.3 L915.0 1164.0 L916.5 1163.7 L918.0 1163.5 L919.5 1163.2 L921.0 1163.0 L922.5 1162.8 L924.0 1162.6 L925.5 1162.4 L927.0 1162.2 L928.5 1162.0 L930.0 1161.9 L931.5 1161.7 L933.0 1161.5 L934.5 1161.4 L936.0 1161.2 L937.5 1161.1 L939.0 1160.9 L940.5 1160.8 L942.0 1160.6 L943.5 1160.5 L945.0 1160.3 L946.5 1160.2 L948.0 1160.0 L949.5 1159.8 L951.0 1159.6 L952.5 1159.4 L954.0 1159.2 L955.5 1158.9 L957.0 1158.7 L958.5 1158.4 L960.0 1158.1 L961.5 1157.8 L963.0 1157.5 L964.5 1157.2 L966.0 1156.9 L967.5 1156.5 L969.0 1156.1 L970.5 1155.8 L972.0 1155.5 L973.5 1155.1 L975.0 1154.7 L976.5 1154.4 L978.0 1154.0 L979.5 1153.6 L981.0 1153.2 L982.5 1152.8 L984.0 1152.4 L985.5 1152.1 L987.0 1151.8 L988.5 1151.5 L990.0 1151.2 L991.5 1150.9 L993.0 1150.7 L994.5 1150.6 L996.0 1150.3 L997.5 1149.8 L999.0 1149.7 L1000.5 1149.5 L1002.0 1149.2 L1003.5 1149.0 L1005.0 1149.0 L1006.5 1149.1 L1008.0 1148.9 L1009.5 1148.7 L1011.0 1148.6 L1012.5 1148.7 L1014.0 1149.0 L1015.5 1149.1 L1017.0 1149.0 L1018.5 1149.0 L1020.0 1149.2 L1021.5 1149.5 L1023.0 1149.9 L1024.5 1150.2 L1026.0 1150.3 L1027.5 1150.8 L1029.0 1151.4 L1030.5 1152.0 L1032.0 1152.4 L1033.5 1153.0 L1035.0 1153.6 L1036.5 1154.3 L1038.0 1155.0 L1039.5 1155.7 L1041.0 1156.6 L1042.5 1157.5 L1044.0 1158.4 L1045.5 1159.4 L1047.0 1160.4 L1048.5 1161.3 L1050.0 1162.3 L1051.5 1163.4 L1053.0 1164.5 L1054.5 1165.5 L1056.0 1166.5 L1057.5 1167.7 L1059.0 1168.9 L1060.5 1170.1 L1062.0 1171.3 L1063.5 1172.5 L1065.0 1173.7 L1066.5 1174.8 L1068.0 1176.0 L1069.5 1177.2 L1071.0 1178.5 L1072.5 1179.7 L1074.0 1180.8 L1075.5 1182.0 L1077.0 1183.2 L1078.5 1184.3 L1080.0 1185.5 L1081.5 1186.5 L1083.0 1187.7 L1084.5 1188.9 L1086.0 1190.0 L1087.5 1190.9 L1089.0 1192.0 L1090.5 1193.2 L1092.0 1194.2 L1093.5 1195.0 L1095.0 1195.8 L1096.5 1196.7 L1098.0 1197.7 L1099.5 1198.6 L1101.0 1199.5 L1102.5 1200.3 L1104.0 1201.0 L1105.5 1201.6 L1107.0 1202.3 L1108.5 1203.1 L1110.0 1203.8 L1111.5 1204.5 L1113.0 1205.1 L1114.5 1205.8 L1116.0 1206.4 L1117.5 1207.0 L1119.0 1207.4 L1120.5 1207.7 L1122.0 1208.3 L1123.5 1208.8 L1125.0 1209.1 L1126.5 1209.4 L1128.0 1209.8 L1129.5 1210.2 L1131.0 1210.4 L1132.5 1210.6 L1134.0 1210.9 L1135.5 1211.3 L1137.0 1211.5 L1138.5 1211.7 L1140.0 1211.7 L1141.5 1211.6 L1143.0 1211.6 L1144.5 1211.7 L1146.0 1211.5 L1147.5 1211.3 L1149.0 1211.2 L1150.5 1211.1 L1152.0 1211.0 L1153.5 1210.9 L1155.0 1210.8 L1156.5 1210.5 L1158.0 1210.2 L1159.5 1209.9 L1161.0 1209.6 L1162.5 1209.3 L1164.0 1208.9 L1165.5 1208.3 L1167.0 1207.8 L1168.5 1207.3 L1170.0 1206.8 L1171.5 1206.2 L1173.0 1205.6 L1174.5 1205.1 L1176.0 1204.5 L1177.5 1203.8 L1179.0 1203.0 L1180.5 1202.4 L1182.0 1201.9 L1183.5 1201.2 L1185.0 1200.4 L1186.5 1199.6 L1188.0 1198.8 L1189.5 1198.0 L1191.0 1197.3 L1192.5 1196.6 L1194.0 1195.8 L1195.5 1195.1 L1197.0 1194.5 L1198.5 1193.8 L1200.0 1193.0 L1201.5 1192.5 L1203.0 1192.0 L1204.5 1191.3 L1206.0 1190.6 L1207.5 1190.1 L1209.0 1189.6 L1210.5 1189.0 L1212.0 1188.4 L1213.5 1188.2 L1215.0 1188.0 L1216.5 1187.3 L1218.0 1186.8 L1219.5 1186.6 L1221.0 1186.4 L1222.5 1186.1 L1224.0 1185.5 L1225.5 1185.0 L1227.0 1185.0 L1228.5 1184.9 L1230.0 1184.8 L1231.5 1184.5 L1233.0 1184.0 L1234.5 1183.8 L1236.0 1183.9 L1237.5 1183.9 L1239.0 1183.7 L1240.5 1183.4 L1242.0 1183.3 L1243.5 1183.4 L1245.0 1183.6 L1246.5 1183.6 L1248.0 1183.5 L1249.5 1183.3 L1251.0 1183.0 L1252.5 1182.9 L1254.0 1183.0 L1255.5 1183.0 L1257.0 1183.1 L1258.5 1183.2 L1260.0 1183.3 L1261.5 1183.5 L1263.0 1183.6 L1264.5 1183.7 L1266.0 1183.9 L1267.5 1184.2 L1269.0 1184.3 L1270.5 1184.3 L1272.0 1184.5 L1273.5 1184.7 L1275.0 1184.9 L1276.5 1185.0 L1278.0 1185.5 L1279.5 1185.8 L1281.0 1186.0 L1282.5 1185.9 L1284.0 1186.0 L1285.5 1186.4 L1287.0 1186.9 L1288.5 1187.2 L1290.0 1187.4 L1291.5 1187.8 L1293.0 1188.2 L1294.5 1188.5 L1296.0 1188.9 L1297.5 1189.2 L1299.0 1189.4 L1300.5 1189.8 L1302.0 1190.2 L1303.5 1190.4 L1305.0 1190.7 L1306.5 1191.2 L1308.0 1191.8 L1309.5 1192.3 L1311.0 1192.7 L1312.5 1193.1 L1314.0 1193.5 L1315.5 1194.0 L1317.0 1194.3 L1318.5 1194.8 L1320.0 1195.5 L1321.5 1196.0 L1323.0 1196.4 L1324.5 1197.0 L1326.0 1197.6 L1327.5 1198.2 L1329.0 1198.5 L1330.5 1199.2 L1332.0 1199.8 L1333.5 1200.3 L1335.0 1200.7 L1336.5 1201.1 L1338.0 1201.7 L1339.5 1202.3 L1341.0 1202.7 L1342.5 1203.4 L1344.0 1204.2 L1345.5 1204.8 L1347.0 1205.3 L1348.5 1205.7 L1350.0 1206.2 L1351.5 1206.7 L1353.0 1207.4 L1354.5 1208.0 L1356.0 1208.5 L1357.5 1209.1 L1359.0 1209.7 L1360.5 1210.3 L1362.0 1211.0 L1363.5 1211.5 L1365.0 1211.7 L1366.5 1212.1 L1368.0 1212.5 L1369.5 1213.1 L1371.0 1213.7 L1372.5 1214.1 L1374.0 1214.5 L1375.5 1215.0 L1377.0 1215.6 L1378.5 1215.9 L1380.0 1216.3 L1381.5 1216.8 L1383.0 1217.2 L1384.5 1217.5 L1386.0 1217.8 L1387.5 1218.0 L1389.0 1218.2 L1390.5 1218.6 L1392.0 1219.0 L1393.5 1219.1 L1395.0 1219.2 L1396.5 1219.4 L1398.0 1219.5 L1399.5 1219.7 L1401.0 1219.8 L1402.5 1219.6 L1404.0 1219.6 L1405.5 1219.7 L1407.0 1219.8 L1408.5 1219.7 L1410.0 1219.7 L1411.5 1219.5 L1413.0 1219.4 L1414.5 1219.2 L1416.0 1219.0 L1417.5 1218.9 L1419.0 1218.5 L1420.5 1218.1 L1422.0 1218.1 L1423.5 1218.1 L1425.0 1217.8 L1426.5 1217.6 L1428.0 1217.4 L1429.5 1217.1 L1431.0 1216.7 L1432.5 1216.3 L1434.0 1215.8 L1435.5 1215.3 L1437.0 1215.0 L1438.5 1214.6 L1440.0 1214.1 L1441.5 1213.5 L1443.0 1213.0 L1444.5 1212.6 L1446.0 1212.1 L1447.5 1211.5 L1449.0 1211.1 L1450.5 1210.7 L1452.0 1210.2 L1453.5 1209.7 L1455.0 1209.1 L1456.5 1208.4 L1458.0 1207.9 L1459.5 1207.5 L1461.0 1207.1 L1462.5 1206.4 L1464.0 1205.7 L1465.5 1205.2 L1467.0 1204.8 L1468.5 1204.4 L1470.0 1203.8 L1471.5 1203.0 L1473.0 1202.4 L1474.5 1201.9 L1476.0 1201.4 L1477.5 1200.8 L1479.0 1200.4 L1480.5 1200.0 L1482.0 1199.3 L1483.5 1198.5 L1485.0 1198.1 L1486.5 1197.7 L1488.0 1197.1 L1489.5 1196.7 L1491.0 1196.3 L1492.5 1195.9 L1494.0 1195.5 L1495.5 1194.9 L1497.0 1194.5 L1498.5 1194.0 L1500.0 1193.7 L1501.5 1193.3 L1503.0 1193.0 L1504.5 1192.6 L1506.0 1192.1 L1507.5 1191.9 L1509.0 1191.7 L1510.5 1191.4 L1512.0 1191.2 L1513.5 1191.0 L1515.0 1190.7 L1516.5 1190.3 L1518.0 1190.1 L1519.5 1189.9 L1521.0 1189.7 L1522.5 1189.4 L1524.0 1189.3 L1525.5 1189.2 L1527.0 1189.1 L1528.5 1189.0 L1530.0 1188.9 L1531.5 1189.1 L1533.0 1189.2 L1534.5 1189.1 L1536.0 1188.8 L1537.5 1188.6 L1539.0 1188.7 L1540.5 1188.7 L1542.0 1188.7 L1543.5 1188.8 L1545.0 1188.9 L1546.5 1189.0 L1548.0 1189.2 L1549.5 1189.4 L1551.0 1189.3 L1552.5 1189.2 L1554.0 1189.3 L1555.5 1189.3 L1557.0 1189.4 L1558.5 1189.4 L1560.0 1189.6 L1561.5 1189.9 L1563.0 1189.9 L1564.5 1189.9 L1566.0 1190.1 L1567.5 1190.4 L1569.0 1190.6 L1570.5 1190.5 L1572.0 1190.6 L1573.5 1190.8 L1575.0 1190.9 L1576.5 1191.2 L1578.0 1191.6 L1579.5 1191.6 L1581.0 1191.6 L1582.5 1191.7 L1584.0 1191.9 L1585.5 1192.1 L1587.0 1192.5 L1588.5 1192.9 L1590.0 1193.0 L1591.5 1192.9 L1593.0 1193.1 L1594.5 1193.3 L1596.0 1193.3 L1597.5 1193.5 L1599.0 1193.8 L1600.5 1193.9 L1602.0 1194.1 L1603.5 1194.3 L1605.0 1194.4 L1606.5 1194.6 L1608.0 1194.9 L1609.5 1195.1 L1611.0 1195.3 L1612.5 1195.6 L1614.0 1195.8 L1615.5 1195.9 L1617.0 1196.0 L1618.5 1196.1 L1620.0 1196.4 L1621.5 1196.8 L1623.0 1196.9 L1624.5 1197.1 L1626.0 1197.3 L1627.5 1197.4 L1629.0 1197.5 L1630.5 1197.7 L1632.0 1197.8 L1633.5 1197.9 L1635.0 1198.0 L1636.5 1198.2 L1638.0 1198.4 L1639.5 1198.7 L1641.0 1199.0 L1642.5 1199.0 L1644.0 1198.9 L1645.5 1199.0 L1647.0 1199.1 L1648.5 1199.1 L1650.0 1199.2 L1651.5 1199.5 L1653.0 1199.6 L1654.5 1199.5 L1656.0 1199.7 L1657.5 1200.0 L1659.0 1200.0 L1660.5 1200.0 L1662.0 1200.1 L1663.5 1200.1 L1665.0 1200.4 L1666.5 1200.4 L1668.0 1200.2 L1669.5 1200.3 L1671.0 1200.5 L1672.5 1200.4 L1674.0 1200.3 L1675.5 1200.2 L1677.0 1200.2 L1678.5 1200.3 L1680.0 1200.4 L1681.5 1200.2 L1683.0 1200.1 L1684.5 1200.1 L1686.0 1200.1 L1687.5 1200.1 L1689.0 1200.0 L1690.5 1199.8 L1692.0 1199.5 L1693.5 1199.3 L1695.0 1199.6 L1696.5 1199.6 L1698.0 1199.2 L1699.5 1199.1 L1701.0 1199.1 L1702.5 1199.1 L1704.0 1199.0 L1705.5 1198.8 L1707.0 1198.5 L1708.5 1198.3 L1710.0 1198.1 L1711.5 1197.9 L1713.0 1197.8 L1714.5 1197.7 L1716.0 1197.4 L1717.5 1197.1 L1719.0 1196.9 L1720.5 1196.6 L1722.0 1196.2 L1723.5 1195.8 L1725.0 1195.7 L1726.5 1195.7 L1728.0 1195.4 L1729.5 1195.1 L1731.0 1194.9 L1732.5 1194.8 L1734.0 1194.6 L1735.5 1194.3 L1737.0 1194.0 L1738.5 1193.9 L1740.0 1193.7 L1741.5 1193.2 L1743.0 1192.8 L1744.5 1192.6 L1746.0 1192.6 L1747.5 1192.3 L1749.0 1191.9 L1750.5 1191.7 L1752.0 1191.5 L1753.5 1191.2 L1755.0 1190.7 L1756.5 1190.5 L1758.0 1190.5 L1759.5 1190.2 L1761.0 1190.1 L1762.5 1190.0 L1764.0 1189.6 L1765.5 1189.3 L1767.0 1189.0 L1768.5 1188.7 L1770.0 1188.5 L1771.5 1188.1 L1773.0 1187.9 L1774.5 1188.0 L1776.0 1188.0 L1777.5 1187.8 L1779.0 1187.6 L1780.5 1187.4 L1782.0 1187.3 L1783.5 1187.0 L1785.0 1186.8 L1786.5 1186.7 L1788.0 1186.5 L1789.5 1186.5 L1791.0 1186.6 L1792.5 1186.4 L1794.0 1186.2 L1795.5 1186.0 L1797.0 1185.8 L1798.5 1185.7 L1800.0 1185.6 L1801.5 1185.3 L1803.0 1185.2 L1804.5 1185.2 L1806.0 1185.0 L1807.5 1185.0 L1809.0 1185.1 L1810.5 1184.9 L1812.0 1184.7 L1813.5 1184.7 L1815.0 1184.8 L1816.5 1184.8 L1818.0 1184.7 L1819.5 1184.8 L1821.0 1184.9 L1822.5 1184.6 L1824.0 1184.3 L1825.5 1184.5 L1827.0 1184.6 L1828.5 1184.4 L1830.0 1184.4 L1831.5 1184.5 L1833.0 1184.5 L1834.5 1184.3 L1836.0 1184.3 L1837.5 1184.4 L1839.0 1184.5 L1840.5 1184.6 L1842.0 1184.4 L1843.5 1184.2 L1845.0 1184.3 L1846.5 1184.3 L1848.0 1184.3 L1849.5 1184.3 L1851.0 1184.3 L1852.5 1184.4 L1854.0 1184.4 L1855.5 1184.3 L1857.0 1184.3 L1858.5 1184.3 L1860.0 1184.4 L1861.5 1184.4 L1863.0 1184.3 L1864.5 1184.1 L1866.0 1184.4 L1867.5 1184.7 L1869.0 1184.6 L1870.5 1184.6 L1872.0 1184.5 L1873.5 1184.3 L1875.0 1184.3 L1876.5 1184.6 L1878.0 1184.7 L1879.5 1184.6 L1881.0 1184.6 L1882.5 1184.5 L1884.0 1184.5 L1885.5 1184.5 L1887.0 1184.4 L1888.5 1184.4 L1890.0 1184.2 L1891.5 1184.2 L1893.0 1184.3 L1894.5 1184.1 L1896.0 1183.9 L1897.5 1183.9 L1899.0 1184.0 L1900.5 1184.3 L1902.0 1184.4 L1903.5 1184.2 L1905.0 1183.9 L1906.5 1183.7 L1908.0 1183.8 L1909.5 1183.8 L1911.0 1183.7 L1912.5 1183.7 L1914.0 1183.8 L1915.5 1183.6 L1917.0 1183.2 L1918.5 1183.0 L1920.0 1183.1 L1921.5 1183.1 L1923.0 1183.2 L1924.5 1183.4 L1926.0 1183.3 L1927.5 1183.0 L1929.0 1183.0 L1930.5 1182.9 L1932.0 1182.6 L1933.5 1182.5 L1935.0 1182.4 L1936.5 1182.2 L1938.0 1181.9 L1939.5 1181.8 L1941.0 1181.7 L1942.5 1181.7 L1944.0 1181.6 L1945.5 1181.6 L1947.0 1181.6 L1948.5 1181.4 L1950.0 1181.1 L1951.5 1181.0 L1953.0 1181.0 L1954.5 1180.9 L1956.0 1180.8 L1957.5 1180.6 L1959.0 1180.4 L1960.5 1180.2 L1962.0 1180.1 L1963.5 1180.1 L1965.0 1179.9 L1966.5 1179.7 L1968.0 1179.6 L1969.5 1179.4 L1971.0 1179.3 L1972.5 1179.3 L1974.0 1179.3 L1975.5 1179.1 L1977.0 1179.1 L1978.5 1179.2 L1980.0 1178.9 L1981.5 1178.5 L1983.0 1178.5 L1984.5 1178.5 L1986.0 1178.4 L1987.5 1178.2 L1989.0 1178.0 L1990.5 1177.9 L1992.0 1177.9 L1993.5 1177.9 L1995.0 1177.7 L1996.5 1177.5 L1998.0 1177.5 L1999.5 1177.3 L2001.0 1177.2 L2002.5 1177.2 L2004.0 1177.1 L2005.5 1177.1 L2007.0 1177.1 L2008.5 1176.9 L2010.0 1177.0 L2011.5 1177.0 L2013.0 1176.9 L2014.5 1176.9 L2016.0 1177.0 L2017.5 1177.0 L2019.0 1176.8 L2020.5 1176.6 L2022.0 1176.5 L2023.5 1176.6 L2025.0 1176.8 L2026.5 1176.9 L2028.0 1176.9 L2029.5 1176.9 L2031.0 1176.8 L2032.5 1176.7 L2034.0 1176.9 L2035.5 1176.9 L2037.0 1176.8 L2038.5 1176.9 L2040.0 1177.1 L2041.5 1177.3 L2043.0 1177.5 L2044.5 1177.6 L2046.0 1177.4 L2047.5 1177.3 L2049.0 1177.4 L2050.0 1177.5" fill="none" stroke="#9933FF" stroke-width="3.3" stroke-linejoin="round" stroke-linecap="butt"/>
<line x1="176.8" y1="28" x2="176.8" y2="1437.5" stroke="#000" stroke-width="4"/>
<line x1="174.8" y1="1410.6" x2="2052.8" y2="1410.6" stroke="#000" stroke-width="4"/>
<line x1="364.2" y1="1410.6" x2="364.2" y2="1424.5" stroke="#000" stroke-width="4"/>
<line x1="551.6" y1="1410.6" x2="551.6" y2="1437.5" stroke="#000" stroke-width="4"/>
<line x1="739.0" y1="1410.6" x2="739.0" y2="1424.5" stroke="#000" stroke-width="4"/>
<line x1="926.4" y1="1410.6" x2="926.4" y2="1437.5" stroke="#000" stroke-width="4"/>
<line x1="1113.8" y1="1410.6" x2="1113.8" y2="1424.5" stroke="#000" stroke-width="4"/>
<line x1="1301.2" y1="1410.6" x2="1301.2" y2="1437.5" stroke="#000" stroke-width="4"/>
<line x1="1488.6" y1="1410.6" x2="1488.6" y2="1424.5" stroke="#000" stroke-width="4"/>
<line x1="1676.0" y1="1410.6" x2="1676.0" y2="1437.5" stroke="#000" stroke-width="4"/>
<line x1="1863.4" y1="1410.6" x2="1863.4" y2="1424.5" stroke="#000" stroke-width="4"/>
<line x1="2050.8" y1="1410.6" x2="2050.8" y2="1437.5" stroke="#000" stroke-width="4"/>
<g font-family="'Liberation Sans', Arial, sans-serif" fill="#000">
<text x="175.8" y="1501" font-size="59" text-anchor="middle" transform="translate(0 0)">0</text>
<text x="550.6" y="1501" font-size="59" text-anchor="middle" transform="translate(0 0)">200</text>
<text x="925.4" y="1501" font-size="59" text-anchor="middle" transform="translate(0 0)">400</text>
<text x="1300.2" y="1501" font-size="59" text-anchor="middle" transform="translate(0 0)">600</text>
<text x="1675.0" y="1501" font-size="59" text-anchor="middle" transform="translate(0 0)">800</text>
<text x="2049.8" y="1501" font-size="59" text-anchor="middle" transform="translate(0 0)">1000</text>
<text transform="translate(2069.87 259.85) scale(1 1.0281)" font-size="72.68">293 K</text>
<text transform="translate(2069.85 368.44) scale(1 1.0347)" font-size="73.03">200 K</text>
<text transform="translate(2091.02 458.45) scale(1 1.0353)" font-size="72.17">70 K</text>
<text transform="translate(2092.78 579.06) scale(1 1.0378)" font-size="71.45">30 K</text>
<text transform="translate(2094.74 849.66) scale(1 1.0439)" font-size="70.49">10 K</text>
<text transform="translate(2082.85 1192.46) scale(1 1.0406)" font-size="71.18">5.4 K</text>
<text transform="translate(794.52 1610.38) scale(1 1.0071)" font-size="71.69">Magnetic Field (mT)</text>
</g>
<text font-family="'Liberation Sans', Arial, sans-serif" fill="#000" font-size="71.42" transform="translate(87.50 1120.87) rotate(-90) scale(1 1.0200)">Intensity (arb. unit. offset)</text>
</svg>
</body></html>
